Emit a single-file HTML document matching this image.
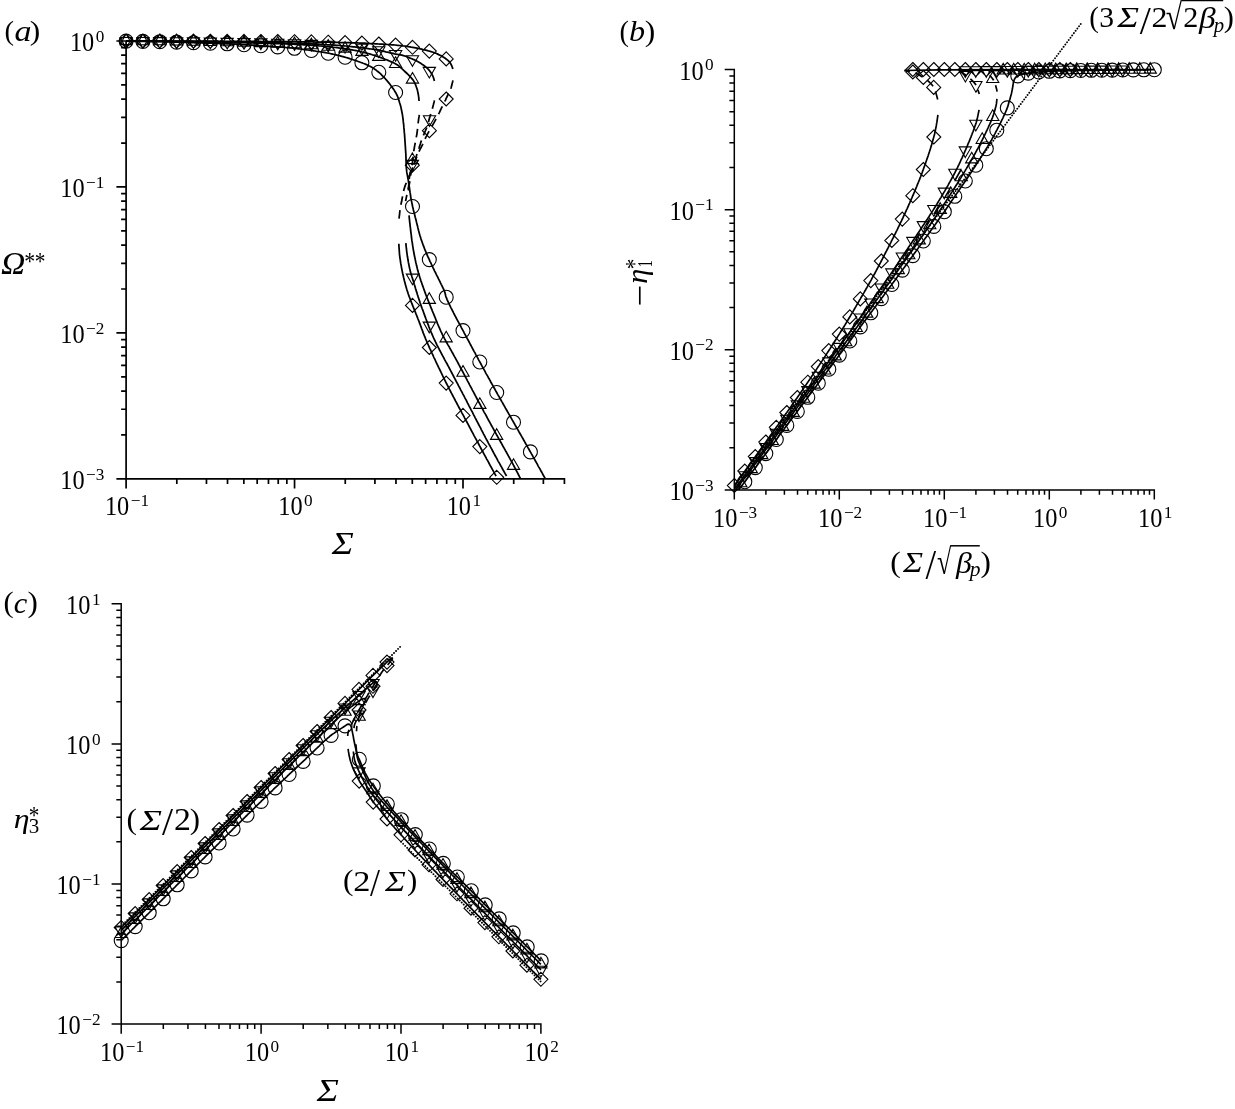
<!DOCTYPE html>
<html><head><meta charset="utf-8"><title>figure</title>
<style>html,body{margin:0;padding:0;background:#fff}svg{display:block}text{font-family:'Liberation Serif', 'DejaVu Serif', serif;fill:#000}</style>
</head><body>
<svg width="1235" height="1109" viewBox="0 0 1235 1109">
<rect width="1235" height="1109" fill="#fff"/>
<clipPath id="ca"><rect x="126.1" y="20" width="460" height="458.9"/></clipPath>
<g clip-path="url(#ca)">
<path d="M126.1 41.1L127.6 41.2L129.1 41.2L130.6 41.2L132.1 41.2L133.6 41.3L135.1 41.3L136.6 41.3L138.1 41.3L139.6 41.3L141.1 41.4L142.6 41.4L144.1 41.4L145.6 41.4L147.1 41.5L148.6 41.5L150.2 41.5L151.7 41.5L153.2 41.6L154.7 41.6L156.2 41.6L157.7 41.7L159.2 41.7L160.7 41.7L162.2 41.7L163.7 41.8L165.2 41.8L166.7 41.8L168.2 41.9L169.7 41.9L171.2 41.9L172.7 42.0L174.2 42.0L175.7 42.1L177.2 42.1L178.7 42.2L180.2 42.2L181.7 42.3L183.2 42.3L184.7 42.4L186.2 42.4L187.7 42.5L189.2 42.5L190.7 42.6L192.2 42.7L193.7 42.7L195.2 42.8L196.7 42.8L198.2 42.9L199.7 42.9L201.2 42.9L202.7 43.0L204.3 43.0L205.8 43.1L207.3 43.1L208.8 43.2L210.3 43.2L211.8 43.2L213.3 43.3L214.8 43.3L216.3 43.4L217.8 43.4L219.3 43.5L220.8 43.5L222.3 43.6L223.8 43.7L225.3 43.7L226.8 43.8L228.3 43.9L229.8 43.9L231.3 44.0L232.8 44.1L234.3 44.2L235.8 44.2L237.3 44.3L238.8 44.4L240.3 44.5L241.8 44.6L243.3 44.7L244.8 44.7L246.3 44.8L247.8 44.9L249.3 45.0L250.8 45.1L252.3 45.2L253.8 45.3L255.3 45.4L256.8 45.4L258.3 45.5L259.8 45.6L261.3 45.7L262.8 45.8L264.3 45.9L265.8 46.0L267.3 46.1L268.8 46.3L270.3 46.4L271.8 46.5L273.3 46.6L274.8 46.7L276.3 46.8L277.8 46.9L279.3 47.0L280.8 47.1L282.3 47.2L283.8 47.3L285.3 47.5L286.8 47.6L288.3 47.7L289.8 47.8L291.3 48.0L292.8 48.1L294.3 48.3L295.8 48.4L297.3 48.6L298.8 48.8L300.3 49.0L301.8 49.2L303.2 49.4L304.7 49.6L306.2 49.8L307.7 50.0L309.2 50.2L310.7 50.4L312.2 50.6L313.7 50.8L315.2 51.0L316.6 51.3L318.1 51.5L319.6 51.7L321.1 52.0L322.6 52.2L324.1 52.4L325.5 52.7L327.0 53.0L328.5 53.2L330.0 53.5L331.4 53.8L332.9 54.2L334.4 54.5L335.9 54.8L337.3 55.2L338.8 55.5L340.2 55.9L341.7 56.3L343.1 56.7L344.6 57.1L346.0 57.5L347.5 57.9L348.9 58.3L350.4 58.8L351.8 59.2L353.2 59.7L354.6 60.2L356.1 60.7L357.5 61.2L358.9 61.7L360.3 62.2L361.7 62.7L363.1 63.3L364.5 63.8L365.9 64.4L367.3 65.0L368.6 65.7L370.0 66.3L371.3 67.0L372.6 67.8L373.9 68.6L375.1 69.4L376.3 70.3L377.5 71.3L378.7 72.2L379.8 73.2L380.9 74.2L382.0 75.3L383.0 76.3L384.1 77.4L385.1 78.5L386.1 79.7L387.1 80.8L388.0 81.9L389.0 83.1L389.9 84.3L390.8 85.5L391.7 86.7L392.6 87.9L393.5 89.1L394.3 90.4L395.1 91.7L395.9 93.0L396.6 94.3L397.2 95.6L397.8 97.0L398.3 98.5L398.7 99.9L399.2 101.3L399.6 102.8L400.1 104.2L400.5 105.6L400.9 107.1L401.2 108.6L401.5 110.0L401.8 111.5L402.1 113.0L402.4 114.5L402.6 116.0L402.8 117.4L403.0 118.9L403.2 120.4L403.3 121.9L403.5 123.4L403.7 124.9L403.8 126.4L403.9 127.9L404.1 129.4L404.2 130.9L404.3 132.4L404.5 133.9L404.6 135.4L404.7 136.9L404.8 138.4L404.9 139.9L405.0 141.4L405.1 142.9L405.2 144.4L405.3 145.9L405.4 147.4L405.5 148.9L405.6 150.4L405.7 151.9L405.8 153.4L405.9 154.9L405.9 156.4L406.0 157.9L406.0 159.4L406.1 160.9L406.1 162.4L406.2 163.9L406.2 165.4L406.3 166.9L406.4 168.4L406.6 169.9L406.7 171.4L406.9 172.9L407.2 174.4L407.5 175.9L407.7 177.3L408.0 178.8L408.3 180.3L408.5 181.8L408.7 183.3L409.0 184.7L409.2 186.2L409.4 187.7L409.6 189.2L409.8 190.7L410.0 192.2L410.3 193.7L410.5 195.2L410.7 196.6L410.9 198.1L411.2 199.6L411.5 201.1L411.8 202.6L412.1 204.0L412.4 205.5L412.7 207.0L413.1 208.4L413.4 209.9L413.8 211.4L414.1 212.8L414.5 214.3L414.9 215.7L415.2 217.2L415.6 218.6L416.0 220.1L416.4 221.6L416.7 223.0L417.1 224.5L417.5 225.9L417.8 227.4L418.2 228.9L418.5 230.3L418.9 231.8L419.3 233.2L419.7 234.7L420.1 236.1L420.6 237.5L421.0 239.0L421.5 240.4L422.0 241.8L422.5 243.2L423.0 244.6L423.6 246.1L424.1 247.5L424.6 248.9L425.2 250.3L425.8 251.7L426.3 253.0L426.9 254.4L427.5 255.8L428.1 257.2L428.8 258.5L429.4 259.9L430.0 261.3L430.7 262.6L431.3 264.0L431.9 265.4L432.6 266.7L433.2 268.1L433.9 269.4L434.5 270.8L435.2 272.1L435.9 273.5L436.5 274.8L437.2 276.2L437.9 277.5L438.5 278.9L439.2 280.2L439.9 281.6L440.5 282.9L441.2 284.3L441.9 285.6L442.5 287.0L443.2 288.3L443.8 289.7L444.4 291.1L444.9 292.5L445.3 293.9L445.6 295.4L446.0 296.8L446.6 298.2L447.1 299.6L447.7 301.0L448.4 302.4L449.0 303.7L449.7 305.1L450.3 306.4L451.0 307.8L451.7 309.1L452.4 310.5L453.1 311.8L453.7 313.1L454.4 314.5L455.1 315.8L455.8 317.1L456.5 318.5L457.2 319.8L457.9 321.1L458.6 322.4L459.4 323.8L460.1 325.1L460.8 326.4L461.5 327.8L462.2 329.1L462.9 330.4L463.6 331.7L464.3 333.1L465.0 334.4L465.7 335.7L466.4 337.0L467.1 338.4L467.9 339.7L468.6 341.0L469.3 342.3L470.0 343.7L470.7 345.0L471.4 346.3L472.1 347.6L472.8 349.0L473.5 350.3L474.2 351.6L475.0 352.9L475.7 354.3L476.4 355.6L477.1 356.9L477.8 358.2L478.5 359.6L479.2 360.9L480.0 362.2L480.7 363.5L481.4 364.8L482.1 366.2L482.8 367.5L483.6 368.8L484.3 370.1L485.0 371.4L485.7 372.8L486.4 374.1L487.2 375.4L487.9 376.7L488.6 378.0L489.4 379.3L490.1 380.6L490.8 382.0L491.5 383.3L492.3 384.6L493.0 385.9L493.7 387.2L494.5 388.5L495.2 389.8L495.9 391.2L496.7 392.5L497.4 393.8L498.1 395.1L498.9 396.4L499.6 397.7L500.4 399.0L501.1 400.3L501.8 401.6L502.6 402.9L503.3 404.3L504.1 405.6L504.8 406.9L505.5 408.2L506.3 409.5L507.0 410.8L507.8 412.1L508.5 413.4L509.3 414.7L510.0 416.0L510.8 417.3L511.5 418.6L512.2 419.9L513.0 421.2L513.7 422.5L514.5 423.8L515.2 425.2L516.0 426.5L516.7 427.8L517.5 429.1L518.2 430.4L518.9 431.7L519.7 433.0L520.4 434.3L521.2 435.6L521.9 436.9L522.7 438.2L523.4 439.5L524.1 440.8L524.9 442.1L525.6 443.5L526.4 444.8L527.1 446.1L527.8 447.4L528.6 448.7L529.3 450.0L530.0 451.3L530.8 452.6L531.5 453.9L532.3 455.2L533.0 456.6L533.7 457.9L534.5 459.2L535.2 460.5L535.9 461.8L536.7 463.1L537.4 464.4L538.1 465.8L538.8 467.1L539.6 468.4L540.3 469.7L541.0 471.0L541.8 472.3L542.5 473.6L543.2 475.0L543.9 476.3L544.7 477.6L545.4 478.9" fill="none" stroke="#000" stroke-width="1.75" stroke-linejoin="round" stroke-linecap="butt"/>
<path d="M126.1 41.0L127.6 41.1L129.1 41.1L130.6 41.1L132.1 41.1L133.6 41.1L135.1 41.1L136.7 41.1L138.2 41.1L139.7 41.1L141.2 41.1L142.7 41.1L144.2 41.2L145.7 41.2L147.2 41.2L148.7 41.2L150.2 41.2L151.7 41.2L153.2 41.2L154.7 41.2L156.3 41.3L157.8 41.3L159.3 41.3L160.8 41.3L162.3 41.3L163.8 41.3L165.3 41.4L166.8 41.4L168.3 41.4L169.8 41.4L171.3 41.4L172.8 41.4L174.3 41.5L175.8 41.5L177.4 41.5L178.9 41.5L180.4 41.6L181.9 41.6L183.4 41.6L184.9 41.6L186.4 41.6L187.9 41.7L189.4 41.7L190.9 41.7L192.4 41.7L193.9 41.8L195.4 41.8L197.0 41.8L198.5 41.8L200.0 41.8L201.5 41.9L203.0 41.9L204.5 41.9L206.0 41.9L207.5 42.0L209.0 42.0L210.5 42.0L212.0 42.0L213.5 42.1L215.0 42.1L216.5 42.1L218.1 42.1L219.6 42.2L221.1 42.2L222.6 42.2L224.1 42.2L225.6 42.3L227.1 42.3L228.6 42.3L230.1 42.4L231.6 42.4L233.1 42.4L234.6 42.5L236.1 42.5L237.6 42.5L239.2 42.6L240.7 42.6L242.2 42.7L243.7 42.7L245.2 42.7L246.7 42.8L248.2 42.8L249.7 42.8L251.2 42.9L252.7 42.9L254.2 42.9L255.7 43.0L257.2 43.0L258.7 43.0L260.3 43.1L261.8 43.1L263.3 43.2L264.8 43.2L266.3 43.2L267.8 43.3L269.3 43.3L270.8 43.4L272.3 43.4L273.8 43.5L275.3 43.5L276.8 43.6L278.3 43.6L279.8 43.7L281.3 43.7L282.9 43.8L284.4 43.8L285.9 43.9L287.4 44.0L288.9 44.0L290.4 44.1L291.9 44.2L293.4 44.2L294.9 44.3L296.4 44.4L297.9 44.5L299.4 44.6L300.9 44.6L302.4 44.7L303.9 44.8L305.4 44.9L306.9 45.0L308.4 45.1L310.0 45.2L311.5 45.3L313.0 45.4L314.5 45.5L316.0 45.6L317.5 45.7L319.0 45.9L320.5 46.0L322.0 46.1L323.5 46.2L325.0 46.4L326.5 46.5L328.0 46.7L329.5 46.8L331.0 47.0L332.5 47.2L334.0 47.3L335.5 47.5L337.0 47.7L338.5 47.9L340.0 48.1L341.5 48.3L342.9 48.5L344.4 48.7L345.9 48.9L347.4 49.2L348.9 49.4L350.4 49.6L351.9 49.9L353.4 50.2L354.9 50.4L356.3 50.7L357.8 51.0L359.3 51.3L360.8 51.6L362.2 52.0L363.7 52.3L365.2 52.7L366.6 53.1L368.1 53.5L369.5 53.9L371.0 54.3L372.4 54.8L373.8 55.2L375.3 55.7L376.7 56.2L378.1 56.7L379.5 57.2L381.0 57.7L382.4 58.2L383.8 58.7L385.2 59.3L386.6 59.8L388.0 60.4L389.4 61.0L390.8 61.6L392.1 62.2L393.5 62.8L394.9 63.5L396.2 64.2L397.5 65.0L398.7 65.9L399.8 66.9L400.9 67.9L402.1 68.9L403.2 69.9L404.3 71.0L405.4 72.0L406.5 73.0L407.6 74.0L408.7 75.1L409.7 76.1L410.8 77.3L411.7 78.4L412.7 79.6L413.5 80.8L414.3 82.1L415.0 83.5L415.6 84.9L416.1 86.3L416.6 87.7L417.1 89.1L417.5 90.6L417.8 92.1L418.1 93.5L418.4 95.0L418.6 96.5L418.8 98.0L418.9 99.5L419.1 101.0" fill="none" stroke="#000" stroke-width="1.75" stroke-linejoin="round" stroke-linecap="butt"/>
<path d="M419.3 114.9L419.1 116.4L418.8 117.9L418.6 119.4L418.4 121.0L418.2 122.5L418.1 124.0L417.9 125.5L417.8 127.0L417.6 128.6L417.4 130.1L417.2 131.6L417.0 133.1L416.8 134.6L416.5 136.1L416.2 137.6L416.0 139.1L415.7 140.6L415.4 142.1L415.1 143.6L414.8 145.1L414.5 146.6L414.3 148.1L414.0 149.7L413.8 151.2L413.7 152.7L413.5 154.2L413.3 155.7L413.1 157.2L412.9 158.8L412.8 160.3L412.5 161.8L412.3 163.3L412.1 164.8L411.7 166.3L411.4 167.8L411.1 169.3L410.7 170.8L410.4 172.3L410.0 173.8L409.8 175.3L409.5 176.8L409.3 178.3L409.1 179.8L409.0 181.3L408.8 182.9L408.7 184.4L408.7 185.9L408.6 187.4L408.6 189.0L408.6 190.5" fill="none" stroke="#000" stroke-width="1.75" stroke-linejoin="round" stroke-linecap="butt" stroke-dasharray="8.6 5.5"/>
<path d="M409.0 215.3L409.2 216.8L409.3 218.3L409.5 219.8L409.6 221.3L409.8 222.8L410.0 224.3L410.1 225.8L410.3 227.2L410.5 228.7L410.6 230.2L410.8 231.7L411.0 233.2L411.2 234.7L411.4 236.2L411.5 237.7L411.7 239.2L411.9 240.7L412.2 242.1L412.4 243.6L412.6 245.1L412.8 246.6L413.1 248.1L413.3 249.6L413.6 251.0L413.8 252.5L414.1 254.0L414.4 255.5L414.7 257.0L415.0 258.4L415.3 259.9L415.6 261.4L415.9 262.8L416.3 264.3L416.6 265.8L417.0 267.2L417.3 268.7L417.7 270.1L418.1 271.6L418.5 273.0L419.0 274.4L419.4 275.9L419.8 277.3L420.3 278.8L420.7 280.2L421.2 281.6L421.7 283.0L422.2 284.5L422.7 285.9L423.2 287.3L423.7 288.7L424.2 290.1L424.7 291.5L425.2 292.9L425.7 294.3L426.3 295.7L426.8 297.1L427.4 298.5L427.9 299.9L428.5 301.3L429.0 302.7L429.6 304.1L430.2 305.5L430.7 306.9L431.3 308.3L431.9 309.7L432.4 311.1L433.0 312.5L433.6 313.9L434.1 315.2L434.7 316.6L435.3 318.0L435.8 319.4L436.4 320.8L437.0 322.2L437.5 323.6L438.1 325.0L438.7 326.4L439.3 327.7L439.9 329.1L440.5 330.5L441.1 331.9L441.8 333.2L442.4 334.6L443.1 335.9L443.8 337.2L444.5 338.6L445.2 339.9L445.9 341.2L446.7 342.5L447.4 343.8L448.1 345.1L448.9 346.4L449.6 347.7L450.4 349.1L451.1 350.4L451.8 351.7L452.6 353.0L453.3 354.3L454.0 355.6L454.7 356.9L455.5 358.3L456.2 359.6L456.9 360.9L457.6 362.2L458.3 363.5L459.0 364.9L459.7 366.2L460.4 367.5L461.1 368.8L461.9 370.2L462.6 371.5L463.3 372.8L464.0 374.1L464.7 375.5L465.4 376.8L466.1 378.1L466.8 379.4L467.5 380.8L468.2 382.1L468.9 383.4L469.6 384.8L470.3 386.1L471.0 387.4L471.7 388.7L472.4 390.1L473.1 391.4L473.8 392.7L474.5 394.0L475.2 395.4L475.9 396.7L476.6 398.0L477.3 399.4L478.0 400.7L478.7 402.0L479.5 403.3L480.2 404.6L480.9 406.0L481.6 407.3L482.3 408.6L483.0 409.9L483.7 411.3L484.4 412.6L485.2 413.9L485.9 415.2L486.6 416.5L487.3 417.9L488.0 419.2L488.7 420.5L489.5 421.8L490.2 423.1L490.9 424.4L491.6 425.8L492.4 427.1L493.1 428.4L493.8 429.7L494.5 431.0L495.3 432.3L496.0 433.6L496.7 435.0L497.5 436.3L498.2 437.6L498.9 438.9L499.7 440.2L500.4 441.5L501.1 442.8L501.9 444.1L502.6 445.5L503.3 446.8L504.1 448.1L504.8 449.4L505.5 450.7L506.3 452.0L507.0 453.3L507.7 454.6L508.4 455.9L509.2 457.3L509.9 458.6L510.6 459.9L511.3 461.2L512.1 462.5L512.8 463.8L513.5 465.2L514.2 466.5L514.9 467.8L515.6 469.1L516.3 470.5L517.0 471.8L517.7 473.1L518.4 474.5L519.1 475.8L519.7 477.2L520.4 478.5" fill="none" stroke="#000" stroke-width="1.75" stroke-linejoin="round" stroke-linecap="butt"/>
<path d="M126.1 41.0L127.6 41.0L129.1 41.0L130.6 41.0L132.1 41.0L133.6 41.0L135.1 41.0L136.6 41.0L138.1 41.0L139.6 41.0L141.1 41.0L142.6 41.0L144.1 41.1L145.6 41.1L147.2 41.1L148.7 41.1L150.2 41.1L151.7 41.1L153.2 41.1L154.7 41.1L156.2 41.1L157.7 41.1L159.2 41.1L160.7 41.2L162.2 41.2L163.7 41.2L165.2 41.2L166.7 41.2L168.2 41.2L169.7 41.2L171.2 41.2L172.7 41.3L174.2 41.3L175.7 41.3L177.2 41.3L178.7 41.3L180.2 41.3L181.7 41.3L183.2 41.4L184.7 41.4L186.3 41.4L187.8 41.4L189.3 41.4L190.8 41.4L192.3 41.4L193.8 41.5L195.3 41.5L196.8 41.5L198.3 41.5L199.8 41.5L201.3 41.5L202.8 41.5L204.3 41.5L205.8 41.5L207.3 41.6L208.8 41.6L210.3 41.6L211.8 41.6L213.3 41.6L214.8 41.7L216.3 41.7L217.8 41.7L219.3 41.8L220.8 41.8L222.3 41.8L223.8 41.8L225.3 41.9L226.9 41.9L228.4 41.9L229.9 41.9L231.4 42.0L232.9 42.0L234.4 42.0L235.9 42.0L237.4 42.1L238.9 42.1L240.4 42.1L241.9 42.1L243.4 42.1L244.9 42.2L246.4 42.2L247.9 42.2L249.4 42.2L250.9 42.3L252.4 42.3L253.9 42.3L255.4 42.3L256.9 42.4L258.4 42.4L259.9 42.4L261.4 42.5L262.9 42.5L264.4 42.5L265.9 42.5L267.4 42.6L269.0 42.6L270.5 42.6L272.0 42.7L273.5 42.7L275.0 42.7L276.5 42.8L278.0 42.8L279.5 42.8L281.0 42.9L282.5 42.9L284.0 43.0L285.5 43.0L287.0 43.1L288.5 43.1L290.0 43.2L291.5 43.2L293.0 43.3L294.5 43.3L296.0 43.3L297.5 43.4L299.0 43.4L300.5 43.5L302.0 43.5L303.5 43.6L305.0 43.6L306.5 43.7L308.0 43.8L309.5 43.8L311.0 43.9L312.5 44.0L314.0 44.0L315.5 44.1L317.0 44.2L318.6 44.2L320.1 44.3L321.6 44.4L323.1 44.5L324.6 44.6L326.1 44.7L327.6 44.8L329.1 44.8L330.6 44.9L332.1 45.0L333.6 45.1L335.1 45.2L336.6 45.3L338.1 45.4L339.6 45.5L341.1 45.7L342.6 45.8L344.1 45.9L345.6 46.0L347.1 46.2L348.6 46.3L350.0 46.5L351.5 46.6L353.0 46.8L354.5 46.9L356.0 47.1L357.5 47.3L359.0 47.5L360.5 47.6L362.0 47.8L363.5 48.0L365.0 48.2L366.5 48.4L368.0 48.6L369.5 48.8L371.0 49.0L372.4 49.2L373.9 49.4L375.4 49.7L376.9 49.9L378.4 50.2L379.8 50.5L381.3 50.8L382.8 51.1L384.3 51.4L385.7 51.8L387.2 52.1L388.7 52.4L390.1 52.8L391.6 53.1L393.1 53.4L394.5 53.8L396.0 54.1L397.5 54.4L399.0 54.6L400.4 54.9L401.9 55.2L403.4 55.6L404.8 56.0L406.2 56.5L407.6 57.0L409.0 57.6L410.4 58.2L411.8 58.8L413.2 59.4L414.6 59.9L415.9 60.6L417.2 61.3L418.5 62.0L419.8 62.8L421.1 63.6L422.4 64.5L423.6 65.3L424.8 66.2L426.0 67.1L427.1 68.1L428.2 69.2L429.2 70.3L430.1 71.5L431.0 72.7L431.8 74.0L432.5 75.3L433.1 76.7L433.6 78.1L434.0 79.5L434.4 81.0" fill="none" stroke="#000" stroke-width="1.75" stroke-linejoin="round" stroke-linecap="butt"/>
<path d="M434.4 100.4L434.1 101.9L433.7 103.4L433.4 104.8L433.0 106.3L432.6 107.8L432.2 109.3L431.8 110.7L431.3 112.2L430.9 113.6L430.4 115.1L430.0 116.5L429.5 118.0L429.1 119.5L428.7 120.9L428.4 122.4L428.0 123.9L427.6 125.3L427.1 126.8L426.5 128.2L425.9 129.6L425.3 131.0L424.7 132.4L424.1 133.8L423.5 135.2L422.9 136.6L422.4 138.0L421.8 139.4L421.3 140.9L420.8 142.3L420.4 143.8L419.9 145.2L419.4 146.7L419.0 148.1L418.5 149.5L418.0 151.0L417.5 152.4L417.0 153.9L416.6 155.3L416.2 156.8L415.8 158.3L415.3 159.7L414.9 161.2L414.5 162.6L414.0 164.1L413.5 165.5L413.0 167.0L412.5 168.4L412.0 169.8L411.6 171.3L411.1 172.8L410.8 174.2L410.5 175.7L410.2 177.2L410.0 178.7L409.8 180.2L409.7 181.8L409.5 183.3L409.2 184.8L408.9 186.3L408.5 187.7L408.1 189.2L407.7 190.7L407.4 192.1L407.1 193.6L406.8 195.1L406.5 196.6L406.2 198.1L405.9 199.6L405.6 201.1" fill="none" stroke="#000" stroke-width="1.75" stroke-linejoin="round" stroke-linecap="butt" stroke-dasharray="8.6 5.5"/>
<path d="M405.8 243.1L406.0 244.6L406.1 246.1L406.3 247.6L406.5 249.1L406.6 250.6L406.8 252.1L407.0 253.5L407.2 255.0L407.4 256.5L407.7 258.0L407.9 259.5L408.2 261.0L408.4 262.4L408.7 263.9L409.0 265.4L409.3 266.9L409.6 268.3L410.0 269.8L410.3 271.3L410.7 272.7L411.1 274.1L411.6 275.6L412.0 277.0L412.5 278.5L412.9 279.9L413.4 281.3L413.8 282.8L414.2 284.2L414.7 285.6L415.1 287.1L415.5 288.5L416.0 289.9L416.4 291.4L416.9 292.8L417.3 294.2L417.8 295.7L418.2 297.1L418.7 298.5L419.2 300.0L419.7 301.4L420.1 302.8L420.6 304.2L421.1 305.6L421.6 307.1L422.1 308.5L422.7 309.9L423.2 311.3L423.7 312.7L424.2 314.1L424.7 315.5L425.2 316.9L425.7 318.3L426.3 319.8L426.8 321.2L427.3 322.6L427.9 324.0L428.4 325.4L428.9 326.8L429.5 328.2L430.0 329.6L430.6 331.0L431.2 332.4L431.8 333.7L432.4 335.1L433.0 336.5L433.6 337.9L434.2 339.2L434.9 340.6L435.5 341.9L436.2 343.3L436.8 344.6L437.5 346.0L438.2 347.3L438.9 348.6L439.6 350.0L440.3 351.3L441.0 352.6L441.7 354.0L442.4 355.3L443.1 356.6L443.8 357.9L444.5 359.3L445.2 360.6L445.9 361.9L446.7 363.2L447.4 364.5L448.1 365.9L448.8 367.2L449.5 368.5L450.2 369.8L450.9 371.2L451.6 372.5L452.3 373.8L453.0 375.1L453.7 376.5L454.4 377.8L455.1 379.1L455.8 380.5L456.5 381.8L457.2 383.1L457.9 384.4L458.6 385.8L459.3 387.1L460.0 388.4L460.7 389.8L461.4 391.1L462.1 392.4L462.8 393.8L463.5 395.1L464.2 396.4L464.9 397.8L465.6 399.1L466.3 400.4L467.0 401.8L467.6 403.1L468.3 404.4L469.0 405.8L469.7 407.1L470.4 408.4L471.1 409.8L471.8 411.1L472.5 412.4L473.2 413.8L473.8 415.1L474.5 416.4L475.2 417.8L475.9 419.1L476.6 420.5L477.3 421.8L478.0 423.1L478.7 424.5L479.4 425.8L480.1 427.1L480.8 428.4L481.4 429.8L482.1 431.1L482.8 432.4L483.5 433.8L484.2 435.1L484.9 436.4L485.6 437.8L486.3 439.1L487.0 440.4L487.7 441.7L488.4 443.1L489.1 444.4L489.9 445.7L490.6 447.1L491.3 448.4L492.0 449.7L492.7 451.0L493.4 452.3L494.1 453.7L494.8 455.0L495.5 456.3L496.3 457.6L497.0 458.9L497.7 460.3L498.4 461.6L499.2 462.9L499.9 464.2L500.6 465.5L501.4 466.8L502.1 468.1L502.8 469.5L503.6 470.8L504.3 472.1L505.0 473.4L505.8 474.7L506.5 476.0" fill="none" stroke="#000" stroke-width="1.75" stroke-linejoin="round" stroke-linecap="butt"/>
<path d="M126.1 41.0L127.6 41.0L129.1 41.0L130.6 41.0L132.1 41.0L133.6 41.0L135.1 41.0L136.6 41.0L138.1 41.0L139.6 41.0L141.1 41.0L142.6 41.0L144.1 41.0L145.6 41.0L147.1 41.0L148.6 41.0L150.1 41.0L151.6 41.0L153.1 41.0L154.6 41.0L156.1 41.0L157.6 41.0L159.1 41.0L160.6 41.1L162.1 41.1L163.6 41.1L165.1 41.1L166.7 41.1L168.2 41.1L169.7 41.1L171.2 41.1L172.7 41.1L174.2 41.1L175.7 41.1L177.2 41.1L178.7 41.1L180.2 41.1L181.7 41.1L183.2 41.1L184.7 41.1L186.2 41.1L187.7 41.1L189.2 41.1L190.7 41.1L192.2 41.1L193.7 41.2L195.2 41.2L196.7 41.2L198.2 41.2L199.7 41.2L201.2 41.2L202.7 41.2L204.2 41.2L205.7 41.2L207.2 41.2L208.7 41.2L210.2 41.2L211.7 41.2L213.2 41.2L214.7 41.2L216.2 41.2L217.7 41.2L219.2 41.3L220.7 41.3L222.2 41.3L223.7 41.3L225.2 41.3L226.7 41.3L228.2 41.3L229.7 41.3L231.2 41.3L232.7 41.3L234.2 41.3L235.7 41.3L237.2 41.3L238.7 41.3L240.2 41.3L241.7 41.3L243.2 41.3L244.7 41.4L246.2 41.4L247.8 41.4L249.3 41.4L250.8 41.4L252.3 41.4L253.8 41.4L255.3 41.4L256.8 41.4L258.3 41.4L259.8 41.4L261.3 41.5L262.8 41.5L264.3 41.5L265.8 41.5L267.3 41.5L268.8 41.5L270.3 41.5L271.8 41.5L273.3 41.5L274.8 41.5L276.3 41.5L277.8 41.6L279.3 41.6L280.8 41.6L282.3 41.6L283.8 41.6L285.3 41.6L286.8 41.6L288.3 41.6L289.8 41.7L291.3 41.7L292.8 41.7L294.3 41.7L295.8 41.7L297.3 41.7L298.8 41.7L300.3 41.8L301.8 41.8L303.3 41.8L304.8 41.8L306.3 41.8L307.8 41.9L309.3 41.9L310.8 41.9L312.3 41.9L313.8 41.9L315.3 42.0L316.8 42.0L318.3 42.0L319.8 42.0L321.3 42.1L322.8 42.1L324.3 42.1L325.8 42.1L327.3 42.2L328.8 42.2L330.3 42.2L331.8 42.3L333.3 42.3L334.9 42.4L336.4 42.4L337.9 42.4L339.4 42.5L340.9 42.5L342.4 42.5L343.9 42.6L345.4 42.6L346.9 42.6L348.4 42.7L349.9 42.7L351.4 42.8L352.9 42.8L354.4 42.8L355.9 42.9L357.4 42.9L358.9 43.0L360.4 43.0L361.9 43.1L363.4 43.2L364.9 43.2L366.4 43.3L367.9 43.4L369.4 43.5L370.9 43.5L372.4 43.6L373.9 43.7L375.4 43.8L376.9 43.9L378.4 44.0L379.9 44.1L381.4 44.1L382.9 44.2L384.4 44.3L385.9 44.4L387.4 44.5L388.9 44.6L390.4 44.7L391.9 44.8L393.4 44.9L394.9 45.0L396.4 45.2L397.8 45.3L399.3 45.5L400.8 45.6L402.3 45.8L403.8 46.0L405.3 46.2L406.8 46.4L408.3 46.6L409.8 46.8L411.2 47.1L412.7 47.3L414.2 47.6L415.7 47.9L417.1 48.2L418.6 48.5L420.1 48.8L421.6 49.1L423.0 49.5L424.5 49.8L425.9 50.2L427.4 50.6L428.8 51.0L430.3 51.4L431.7 51.8L433.1 52.3L434.6 52.8L436.0 53.3L437.3 53.9L438.7 54.6L440.0 55.2L441.4 55.9L442.7 56.7L444.0 57.5L445.2 58.3L446.4 59.2L447.6 60.1L448.7 61.1L449.7 62.3L450.6 63.5L451.3 64.8L451.9 66.2L452.4 67.6L452.9 69.0" fill="none" stroke="#000" stroke-width="1.75" stroke-linejoin="round" stroke-linecap="butt"/>
<path d="M452.9 80.4L452.6 81.9L452.2 83.3L451.9 84.8L451.5 86.3L451.1 87.7L450.6 89.1L450.0 90.5L449.4 91.9L448.7 93.2L448.0 94.6L447.4 96.0L446.7 97.3L446.1 98.7L445.5 100.1L444.8 101.4L444.2 102.8L443.5 104.1L442.8 105.5L442.1 106.8L441.4 108.2L440.8 109.5L440.1 110.9L439.5 112.3L438.8 113.6L438.2 115.0L437.5 116.3L436.8 117.6L436.1 119.0L435.3 120.3L434.6 121.6L433.9 122.9L433.1 124.2L432.4 125.6L431.7 126.9L430.9 128.2L430.1 129.5L429.4 130.8L428.6 132.1L427.9 133.4L427.2 134.7L426.5 136.1L425.8 137.4L425.1 138.8L424.4 140.1L423.8 141.5L423.2 142.9L422.7 144.3L422.0 145.6L421.3 147.0L420.6 148.3L419.9 149.7L419.3 151.0L418.6 152.4L418.0 153.7L417.4 155.1L416.8 156.5L416.3 157.9L415.8 159.4L415.2 160.8L414.7 162.2L414.2 163.6L413.7 165.0L413.1 166.4L412.5 167.8L412.0 169.2L411.4 170.6L410.8 172.0L410.2 173.4L409.7 174.8L409.1 176.2L408.6 177.6L408.0 179.0L407.4 180.4L406.8 181.8L406.2 183.1L405.6 184.5L405.1 185.9L404.6 187.4L404.2 188.8L403.8 190.3L403.4 191.7L403.1 193.2L402.8 194.7L402.6 196.2L402.3 197.7L402.0 199.1L401.8 200.6L401.5 202.1L401.1 203.6L400.8 205.1L400.5 206.5L400.3 208.0L400.1 209.5L399.9 211.0L399.7 212.5L399.6 214.0L399.4 215.5L399.2 217.0L399.0 218.5L398.8 220.0" fill="none" stroke="#000" stroke-width="1.75" stroke-linejoin="round" stroke-linecap="butt" stroke-dasharray="8.6 5.5"/>
<path d="M398.8 243.8L398.9 245.3L399.0 246.8L399.1 248.3L399.2 249.8L399.3 251.3L399.4 252.8L399.5 254.3L399.7 255.8L399.9 257.3L400.1 258.8L400.3 260.2L400.5 261.7L400.7 263.2L401.0 264.7L401.3 266.2L401.5 267.6L401.8 269.1L402.1 270.6L402.4 272.1L402.7 273.5L403.1 275.0L403.4 276.5L403.7 277.9L404.1 279.4L404.4 280.8L404.8 282.3L405.2 283.8L405.6 285.2L406.0 286.7L406.4 288.1L406.8 289.5L407.3 291.0L407.8 292.4L408.2 293.8L408.7 295.2L409.2 296.6L409.8 298.0L410.3 299.5L410.8 300.9L411.4 302.3L411.9 303.7L412.5 305.1L413.0 306.4L413.6 307.8L414.1 309.2L414.7 310.6L415.3 312.0L415.8 313.4L416.4 314.8L416.9 316.2L417.5 317.6L418.0 319.0L418.6 320.4L419.1 321.8L419.6 323.2L420.2 324.6L420.7 326.0L421.2 327.4L421.7 328.8L422.3 330.2L422.8 331.6L423.3 333.1L423.9 334.5L424.4 335.9L425.0 337.2L425.5 338.6L426.1 340.0L426.7 341.4L427.3 342.8L427.9 344.2L428.5 345.5L429.1 346.9L429.7 348.3L430.4 349.6L431.0 351.0L431.6 352.4L432.2 353.7L432.9 355.1L433.5 356.5L434.1 357.8L434.8 359.2L435.4 360.5L436.0 361.9L436.7 363.3L437.3 364.6L438.0 366.0L438.6 367.3L439.3 368.7L439.9 370.0L440.6 371.4L441.2 372.7L441.9 374.1L442.5 375.4L443.2 376.8L443.8 378.1L444.5 379.5L445.2 380.8L445.8 382.2L446.5 383.5L447.2 384.9L447.9 386.2L448.5 387.5L449.2 388.9L449.9 390.2L450.6 391.5L451.3 392.9L452.0 394.2L452.7 395.5L453.4 396.9L454.1 398.2L454.8 399.5L455.5 400.9L456.2 402.2L456.9 403.5L457.6 404.8L458.3 406.2L459.0 407.5L459.7 408.8L460.5 410.1L461.2 411.4L461.9 412.8L462.6 414.1L463.3 415.4L464.0 416.7L464.7 418.1L465.4 419.4L466.1 420.7L466.9 422.0L467.6 423.3L468.3 424.7L469.0 426.0L469.7 427.3L470.4 428.6L471.1 430.0L471.8 431.3L472.5 432.6L473.2 433.9L473.9 435.3L474.6 436.6L475.3 437.9L476.1 439.2L476.8 440.6L477.5 441.9L478.2 443.2L478.9 444.5L479.6 445.9L480.3 447.2L481.0 448.5L481.7 449.8L482.5 451.1L483.2 452.5L483.9 453.8L484.6 455.1L485.3 456.4L486.0 457.7L486.7 459.1L487.5 460.4L488.2 461.7L488.9 463.0L489.6 464.3L490.3 465.7L491.1 467.0L491.8 468.3L492.5 469.6L493.2 470.9L493.9 472.2L494.7 473.6L495.4 474.9L496.1 476.2" fill="none" stroke="#000" stroke-width="1.75" stroke-linejoin="round" stroke-linecap="butt"/>
</g>
<path d="M119.1 41.1a7.0 7.0 0 1 0 14.0 0a7.0 7.0 0 1 0 -14.0 0ZM135.9 41.4a7.0 7.0 0 1 0 14.0 0a7.0 7.0 0 1 0 -14.0 0ZM152.8 41.7a7.0 7.0 0 1 0 14.0 0a7.0 7.0 0 1 0 -14.0 0ZM169.6 42.1a7.0 7.0 0 1 0 14.0 0a7.0 7.0 0 1 0 -14.0 0ZM186.5 42.7a7.0 7.0 0 1 0 14.0 0a7.0 7.0 0 1 0 -14.0 0ZM203.3 43.2a7.0 7.0 0 1 0 14.0 0a7.0 7.0 0 1 0 -14.0 0ZM220.2 43.8a7.0 7.0 0 1 0 14.0 0a7.0 7.0 0 1 0 -14.0 0ZM237.0 44.7a7.0 7.0 0 1 0 14.0 0a7.0 7.0 0 1 0 -14.0 0ZM253.9 45.7a7.0 7.0 0 1 0 14.0 0a7.0 7.0 0 1 0 -14.0 0ZM270.7 46.9a7.0 7.0 0 1 0 14.0 0a7.0 7.0 0 1 0 -14.0 0ZM287.5 48.3a7.0 7.0 0 1 0 14.0 0a7.0 7.0 0 1 0 -14.0 0ZM304.4 50.5a7.0 7.0 0 1 0 14.0 0a7.0 7.0 0 1 0 -14.0 0ZM321.2 53.2a7.0 7.0 0 1 0 14.0 0a7.0 7.0 0 1 0 -14.0 0ZM338.1 57.2a7.0 7.0 0 1 0 14.0 0a7.0 7.0 0 1 0 -14.0 0ZM354.9 62.8a7.0 7.0 0 1 0 14.0 0a7.0 7.0 0 1 0 -14.0 0ZM371.8 72.3a7.0 7.0 0 1 0 14.0 0a7.0 7.0 0 1 0 -14.0 0ZM388.6 92.5a7.0 7.0 0 1 0 14.0 0a7.0 7.0 0 1 0 -14.0 0ZM405.5 206.5a7.0 7.0 0 1 0 14.0 0a7.0 7.0 0 1 0 -14.0 0ZM422.3 259.6a7.0 7.0 0 1 0 14.0 0a7.0 7.0 0 1 0 -14.0 0ZM439.2 297.2a7.0 7.0 0 1 0 14.0 0a7.0 7.0 0 1 0 -14.0 0ZM456.0 330.6a7.0 7.0 0 1 0 14.0 0a7.0 7.0 0 1 0 -14.0 0ZM472.8 362.0a7.0 7.0 0 1 0 14.0 0a7.0 7.0 0 1 0 -14.0 0ZM489.7 392.5a7.0 7.0 0 1 0 14.0 0a7.0 7.0 0 1 0 -14.0 0ZM506.5 422.2a7.0 7.0 0 1 0 14.0 0a7.0 7.0 0 1 0 -14.0 0ZM523.4 451.9a7.0 7.0 0 1 0 14.0 0a7.0 7.0 0 1 0 -14.0 0ZM126.1 33.9L132.2 44.6L120.0 44.6ZM142.9 34.0L149.1 44.7L136.8 44.7ZM159.8 34.2L165.9 44.8L153.6 44.8ZM176.6 34.4L182.8 45.0L170.5 45.0ZM193.5 34.6L199.6 45.3L187.3 45.3ZM210.3 34.9L216.5 45.5L204.2 45.5ZM227.2 35.2L233.3 45.8L221.0 45.8ZM244.0 35.6L250.2 46.2L237.9 46.2ZM260.9 36.0L267.0 46.6L254.7 46.6ZM277.7 36.5L283.9 47.1L271.6 47.1ZM294.5 37.2L300.7 47.8L288.4 47.8ZM311.4 38.2L317.5 48.8L305.2 48.8ZM328.2 39.6L334.4 50.2L322.1 50.2ZM345.1 41.7L351.2 52.3L338.9 52.3ZM361.9 44.8L368.1 55.4L355.8 55.4ZM378.8 49.8L384.9 60.4L372.6 60.4ZM395.6 56.8L401.8 67.5L389.5 67.5ZM412.5 72.5L418.6 83.1L406.3 83.1ZM412.4 152.9L418.5 163.6L406.3 163.6ZM429.3 292.7L435.5 303.4L423.2 303.4ZM446.2 331.3L452.3 341.9L440.0 341.9ZM463.0 365.6L469.1 376.2L456.9 376.2ZM479.8 397.8L486.0 408.4L473.7 408.4ZM496.7 428.7L502.8 439.4L490.5 439.4ZM513.5 458.8L519.7 469.4L507.4 469.4ZM126.1 48.1L132.2 37.5L120.0 37.5ZM142.9 48.1L149.1 37.5L136.8 37.5ZM159.8 48.2L165.9 37.6L153.6 37.6ZM176.6 48.4L182.8 37.8L170.5 37.8ZM193.5 48.6L199.6 37.9L187.3 37.9ZM210.3 48.7L216.5 38.1L204.2 38.1ZM227.2 49.0L233.3 38.4L221.0 38.4ZM244.0 49.2L250.2 38.6L237.9 38.6ZM260.9 49.6L267.0 38.9L254.7 38.9ZM277.7 49.9L283.9 39.2L271.6 39.2ZM294.5 50.4L300.7 39.8L288.4 39.8ZM311.4 51.0L317.5 40.4L305.2 40.4ZM328.2 51.9L334.4 41.2L322.1 41.2ZM345.1 53.1L351.2 42.5L338.9 42.5ZM361.9 54.9L368.1 44.2L355.8 44.2ZM378.8 57.4L384.9 46.8L372.6 46.8ZM395.6 61.1L401.8 50.5L389.5 50.5ZM412.5 66.3L418.6 55.7L406.3 55.7ZM429.3 78.0L435.5 67.4L423.2 67.4ZM429.5 126.3L435.6 115.7L423.4 115.7ZM412.4 171.1L418.5 160.4L406.3 160.4ZM412.5 284.7L418.6 274.1L406.3 274.1ZM429.3 332.8L435.5 322.1L423.2 322.1ZM126.1 34.0L133.1 41.0L126.1 48.0L119.1 41.0ZM142.9 34.0L149.9 41.0L142.9 48.0L135.9 41.0ZM159.8 34.0L166.8 41.0L159.8 48.0L152.8 41.0ZM176.6 34.1L183.6 41.1L176.6 48.1L169.6 41.1ZM193.5 34.1L200.5 41.1L193.5 48.1L186.5 41.1ZM210.3 34.2L217.3 41.2L210.3 48.2L203.3 41.2ZM227.2 34.3L234.2 41.3L227.2 48.3L220.2 41.3ZM244.0 34.4L251.0 41.4L244.0 48.4L237.0 41.4ZM260.9 34.5L267.9 41.5L260.9 48.5L253.9 41.5ZM277.7 34.5L284.7 41.5L277.7 48.5L270.7 41.5ZM294.5 34.7L301.5 41.7L294.5 48.7L287.5 41.7ZM311.4 34.9L318.4 41.9L311.4 48.9L304.4 41.9ZM328.2 35.2L335.2 42.2L328.2 49.2L321.2 42.2ZM345.1 35.6L352.1 42.6L345.1 49.6L338.1 42.6ZM361.9 36.1L368.9 43.1L361.9 50.1L354.9 43.1ZM378.8 37.0L385.8 44.0L378.8 51.0L371.8 44.0ZM395.6 38.1L402.6 45.1L395.6 52.1L388.6 45.1ZM412.5 40.3L419.5 47.3L412.5 54.3L405.5 47.3ZM429.3 44.1L436.3 51.1L429.3 58.1L422.3 51.1ZM446.2 51.9L453.2 58.9L446.2 65.9L439.2 58.9ZM446.2 92.0L453.2 99.0L446.2 106.0L439.2 99.0ZM429.4 123.7L436.4 130.7L429.4 137.7L422.4 130.7ZM412.3 158.2L419.3 165.2L412.3 172.2L405.3 165.2ZM412.5 298.4L419.5 305.4L412.5 312.4L405.5 305.4ZM429.3 340.5L436.3 347.5L429.3 354.5L422.3 347.5ZM446.2 376.1L453.2 383.1L446.2 390.1L439.2 383.1ZM463.0 408.4L470.0 415.4L463.0 422.4L456.0 415.4ZM479.8 439.6L486.8 446.6L479.8 453.6L472.8 446.6ZM496.7 470.3L503.7 477.3L496.7 484.3L489.7 477.3Z" fill="none" stroke="#000" stroke-width="1.1" stroke-linejoin="miter"/>
<clipPath id="cb"><rect x="734.3" y="10" width="440" height="479.9"/></clipPath>
<g clip-path="url(#cb)">
<path d="M734.3 486.3L1081.4 23.1" fill="none" stroke="#000" stroke-width="1.9" stroke-linejoin="round" stroke-linecap="round" stroke-dasharray="0.01 2.85"/>
<path d="M734.3 495.8L735.2 494.6L736.1 493.4L737.0 492.2L737.9 491.0L738.8 489.8L739.7 488.5L740.6 487.3L741.5 486.1L742.4 484.9L743.3 483.7L744.2 482.5L745.1 481.3L746.0 480.1L746.9 478.9L747.8 477.7L748.7 476.5L749.6 475.3L750.5 474.1L751.4 472.9L752.3 471.7L753.2 470.5L754.1 469.3L755.0 468.1L755.9 466.9L756.8 465.7L757.7 464.5L758.6 463.2L759.5 462.0L760.4 460.8L761.3 459.6L762.2 458.4L763.1 457.2L764.0 456.0L764.9 454.8L765.8 453.6L766.7 452.4L767.6 451.2L768.5 450.0L769.4 448.8L770.3 447.6L771.2 446.4L772.1 445.2L773.0 444.0L773.9 442.8L774.8 441.6L775.7 440.4L776.6 439.2L777.5 437.9L778.4 436.7L779.3 435.5L780.2 434.3L781.1 433.1L782.0 431.9L782.9 430.7L783.8 429.5L784.6 428.3L785.5 427.1L786.4 425.9L787.3 424.7L788.2 423.5L789.1 422.3L790.0 421.1L790.9 419.9L791.8 418.7L792.7 417.5L793.6 416.3L794.5 415.1L795.4 413.9L796.3 412.7L797.2 411.4L798.1 410.2L799.0 409.0L799.9 407.8L800.8 406.6L801.7 405.4L802.6 404.2L803.5 403.0L804.4 401.8L805.3 400.6L806.2 399.4L807.1 398.2L808.0 397.0L808.9 395.8L809.8 394.6L810.7 393.4L811.6 392.2L812.5 391.0L813.4 389.8L814.3 388.6L815.2 387.4L816.1 386.2L817.0 384.9L817.9 383.7L818.8 382.5L819.7 381.3L820.6 380.1L821.5 378.9L822.4 377.7L823.3 376.5L824.2 375.3L825.1 374.1L826.0 372.9L826.9 371.7L827.8 370.5L828.7 369.3L829.6 368.1L830.5 366.9L831.4 365.7L832.3 364.5L833.2 363.3L834.1 362.1L835.0 360.9L835.9 359.6L836.8 358.4L837.7 357.2L838.6 356.0L839.5 354.8L840.4 353.6L841.3 352.4L842.2 351.2L843.1 350.0L844.0 348.8L844.9 347.6L845.8 346.4L846.7 345.2L847.6 344.0L848.5 342.8L849.4 341.6L850.3 340.4L851.2 339.2L852.1 337.9L853.0 336.7L853.9 335.5L854.8 334.3L855.7 333.1L856.6 331.9L857.5 330.7L858.4 329.5L859.3 328.3L860.2 327.1L861.0 325.9L861.9 324.7L862.8 323.5L863.7 322.3L864.6 321.1L865.5 319.9L866.4 318.7L867.3 317.5L868.2 316.2L869.1 315.0L870.0 313.8L870.9 312.6L871.8 311.4L872.7 310.2L873.6 309.0L874.5 307.8L875.4 306.6L876.3 305.4L877.2 304.2L878.1 303.0L879.0 301.8L879.9 300.6L880.8 299.3L881.7 298.1L882.6 296.9L883.5 295.7L884.4 294.5L885.3 293.3L886.1 292.1L887.0 290.9L887.9 289.7L888.8 288.5L889.7 287.3L890.6 286.1L891.5 284.9L892.4 283.6L893.3 282.4L894.2 281.2L895.1 280.0L896.0 278.8L896.9 277.6L897.7 276.4L898.6 275.2L899.5 273.9L900.4 272.7L901.3 271.5L902.2 270.3L903.1 269.1L903.9 267.9L904.8 266.7L905.7 265.4L906.6 264.2L907.5 263.0L908.3 261.8L909.2 260.6L910.1 259.3L911.0 258.1L911.9 256.9L912.7 255.7L913.6 254.5L914.5 253.2L915.4 252.0L916.3 250.8L917.1 249.6L918.0 248.4L918.9 247.1L919.8 245.9L920.6 244.7L921.5 243.5L922.4 242.3L923.3 241.0L924.2 239.8L925.0 238.6L925.9 237.4L926.8 236.2L927.7 234.9L928.6 233.7L929.4 232.5L930.3 231.3L931.2 230.1L932.1 228.8L932.9 227.6L933.8 226.4L934.7 225.2L935.6 224.0L936.5 222.7L937.3 221.5L938.2 220.3L939.1 219.1L939.9 217.8L940.8 216.6L941.7 215.4L942.5 214.2L943.4 212.9L944.3 211.7L945.1 210.5L946.0 209.2L946.8 208.0L947.7 206.8L948.5 205.5L949.4 204.3L950.2 203.0L951.1 201.8L951.9 200.5L952.8 199.3L953.6 198.1L954.5 196.8L955.3 195.6L956.2 194.3L957.0 193.1L957.9 191.9L958.7 190.6L959.6 189.4L960.4 188.1L961.3 186.9L962.1 185.7L963.0 184.4L963.8 183.2L964.7 181.9L965.5 180.7L966.3 179.5L967.2 178.2L968.0 177.0L968.9 175.7L969.7 174.5L970.5 173.2L971.4 172.0L972.2 170.7L973.0 169.4L973.8 168.2L974.7 166.9L975.5 165.7L976.3 164.4L977.1 163.2L978.0 161.9L978.8 160.6L979.6 159.4L980.4 158.1L981.2 156.8L982.0 155.6L982.8 154.3L983.6 153.0L984.4 151.7L985.2 150.5L986.0 149.2L986.8 147.9L987.6 146.6L988.3 145.3L989.1 144.0L989.9 142.7L990.6 141.5L991.4 140.1L992.1 138.8L992.8 137.5L993.6 136.2L994.3 134.9L995.0 133.6L995.7 132.2L996.4 130.9L997.1 129.6L997.8 128.2L998.5 126.9L999.2 125.6L999.8 124.2L1000.5 122.9L1001.2 121.5L1001.8 120.2L1002.5 118.8L1003.1 117.5L1003.7 116.1L1004.4 114.7L1005.0 113.4L1005.6 112.0L1006.2 110.6L1006.8 109.2L1007.3 107.8L1007.8 106.4L1008.2 105.0L1008.6 103.5L1009.0 102.1L1009.4 100.6L1009.9 99.2L1010.3 97.7L1010.7 96.3L1011.1 94.8L1011.5 93.4L1011.8 91.9L1012.1 90.4L1012.4 89.0L1012.6 87.5L1012.9 86.0L1013.1 84.5L1013.3 83.0L1013.6 81.5L1014.1 80.1L1014.7 78.8L1015.6 77.5L1016.7 76.5L1018.0 75.7L1019.4 75.2L1020.8 74.7L1022.2 74.3L1023.7 73.9L1025.2 73.6L1026.6 73.3L1028.1 73.1L1029.6 72.8L1031.1 72.7L1032.6 72.5L1034.1 72.4L1035.6 72.3L1037.1 72.1L1038.6 72.0L1040.1 71.9L1041.6 71.8L1043.1 71.7L1044.6 71.6L1046.1 71.5L1047.6 71.4L1049.1 71.3L1050.6 71.2L1052.1 71.2L1053.6 71.1L1055.1 71.0L1056.6 71.0L1058.1 70.9L1059.6 70.9L1061.1 70.9L1062.6 70.8L1064.1 70.8L1065.6 70.8L1067.1 70.7L1068.6 70.7L1070.1 70.7L1071.6 70.6L1073.1 70.6L1074.6 70.6L1076.1 70.6L1077.6 70.5L1079.1 70.5L1080.6 70.5L1082.1 70.5L1083.7 70.4L1085.2 70.4L1086.7 70.4L1088.2 70.4L1089.7 70.4L1091.2 70.3L1092.7 70.3L1094.2 70.3L1095.7 70.3L1097.2 70.3L1098.7 70.2L1100.2 70.2L1101.7 70.2L1103.2 70.2L1104.7 70.2L1106.2 70.2L1107.7 70.1L1109.2 70.1L1110.7 70.1L1112.2 70.1L1113.7 70.1L1115.2 70.1L1116.7 70.0L1118.2 70.0L1119.7 70.0L1121.2 70.0L1122.7 70.0L1124.2 70.0L1125.7 69.9L1127.2 69.9L1128.7 69.9L1130.2 69.9L1131.8 69.9L1133.3 69.9L1134.8 69.9L1136.3 69.8L1137.8 69.8L1139.3 69.8L1140.8 69.8L1142.3 69.8L1143.8 69.8L1145.3 69.8L1146.8 69.8L1148.3 69.7L1149.8 69.7L1151.3 69.7L1152.8 69.7L1154.3 69.7" fill="none" stroke="#000" stroke-width="1.7" stroke-linejoin="round" stroke-linecap="butt"/>
<path d="M734.3 491.7L735.2 490.5L736.1 489.3L737.0 488.1L737.9 486.9L738.8 485.7L739.7 484.5L740.6 483.3L741.5 482.1L742.4 480.9L743.3 479.7L744.2 478.5L745.1 477.3L746.0 476.1L746.9 474.9L747.8 473.7L748.7 472.5L749.6 471.3L750.5 470.1L751.4 468.9L752.3 467.7L753.2 466.5L754.1 465.3L755.0 464.1L755.9 462.9L756.8 461.7L757.7 460.4L758.6 459.2L759.5 458.0L760.4 456.8L761.3 455.6L762.2 454.4L763.1 453.2L764.0 452.0L764.9 450.8L765.8 449.6L766.7 448.4L767.6 447.2L768.5 446.0L769.4 444.8L770.3 443.6L771.2 442.4L772.1 441.2L773.0 440.0L773.9 438.8L774.8 437.6L775.7 436.4L776.6 435.2L777.5 434.0L778.4 432.8L779.3 431.6L780.2 430.4L781.1 429.2L782.0 428.0L782.9 426.8L783.7 425.5L784.6 424.3L785.5 423.1L786.4 421.9L787.3 420.7L788.2 419.5L789.1 418.3L790.0 417.1L790.9 415.9L791.8 414.7L792.7 413.5L793.6 412.3L794.5 411.1L795.4 409.9L796.3 408.7L797.2 407.5L798.1 406.3L799.0 405.1L799.9 403.9L800.8 402.7L801.7 401.5L802.6 400.3L803.5 399.1L804.4 397.8L805.3 396.6L806.2 395.4L807.1 394.2L808.0 393.0L808.9 391.8L809.8 390.6L810.7 389.4L811.6 388.2L812.5 387.0L813.4 385.8L814.2 384.6L815.1 383.4L816.0 382.2L816.9 381.0L817.8 379.8L818.7 378.6L819.6 377.4L820.5 376.2L821.4 375.0L822.3 373.7L823.2 372.5L824.1 371.3L825.0 370.1L825.9 368.9L826.8 367.7L827.7 366.5L828.6 365.3L829.5 364.1L830.4 362.9L831.3 361.7L832.2 360.5L833.1 359.3L834.0 358.1L834.9 356.9L835.7 355.7L836.6 354.5L837.5 353.3L838.4 352.0L839.3 350.8L840.2 349.6L841.1 348.4L842.0 347.2L842.9 346.0L843.8 344.8L844.7 343.6L845.6 342.4L846.5 341.2L847.4 340.0L848.3 338.8L849.2 337.6L850.0 336.3L850.9 335.1L851.8 333.9L852.7 332.7L853.6 331.5L854.5 330.3L855.4 329.1L856.3 327.9L857.2 326.7L858.0 325.5L858.9 324.2L859.8 323.0L860.7 321.8L861.6 320.6L862.5 319.4L863.4 318.2L864.2 317.0L865.1 315.8L866.0 314.5L866.9 313.3L867.8 312.1L868.7 310.9L869.6 309.7L870.4 308.5L871.3 307.3L872.2 306.0L873.1 304.8L874.0 303.6L874.9 302.4L875.7 301.2L876.6 300.0L877.5 298.7L878.4 297.5L879.3 296.3L880.1 295.1L881.0 293.9L881.9 292.7L882.8 291.5L883.7 290.2L884.5 289.0L885.4 287.8L886.3 286.6L887.2 285.4L888.1 284.2L889.0 282.9L889.8 281.7L890.7 280.5L891.6 279.3L892.5 278.1L893.3 276.8L894.2 275.6L895.1 274.4L896.0 273.2L896.9 272.0L897.7 270.8L898.6 269.5L899.5 268.3L900.4 267.1L901.2 265.9L902.1 264.6L903.0 263.4L903.8 262.2L904.7 261.0L905.6 259.7L906.5 258.5L907.3 257.3L908.2 256.1L909.1 254.8L909.9 253.6L910.8 252.4L911.7 251.2L912.5 249.9L913.4 248.7L914.3 247.5L915.1 246.3L916.0 245.0L916.8 243.8L917.7 242.6L918.6 241.3L919.4 240.1L920.3 238.9L921.2 237.6L922.0 236.4L922.9 235.2L923.7 234.0L924.6 232.7L925.4 231.5L926.3 230.3L927.2 229.0L928.0 227.8L928.9 226.5L929.7 225.3L930.6 224.1L931.4 222.8L932.3 221.6L933.1 220.4L934.0 219.1L934.8 217.9L935.6 216.6L936.5 215.4L937.3 214.1L938.2 212.9L939.0 211.7L939.8 210.4L940.7 209.2L941.5 207.9L942.4 206.7L943.2 205.4L944.0 204.2L944.8 202.9L945.7 201.7L946.5 200.4L947.3 199.1L948.1 197.9L949.0 196.6L949.8 195.4L950.6 194.1L951.4 192.8L952.2 191.6L953.0 190.3L953.8 189.0L954.6 187.8L955.4 186.5L956.2 185.2L957.0 184.0L957.8 182.7L958.6 181.4L959.4 180.1L960.2 178.8L961.0 177.6L961.7 176.3L962.5 175.0L963.3 173.7L964.1 172.4L964.9 171.1L965.6 169.8L966.4 168.6L967.2 167.3L967.9 166.0L968.7 164.7L969.4 163.4L970.2 162.1L970.9 160.8L971.7 159.5L972.4 158.2L973.2 156.9L973.9 155.6L974.7 154.3L975.4 152.9L976.1 151.6L976.8 150.3L977.6 149.0L978.3 147.7L979.0 146.3L979.7 145.0L980.3 143.7L981.0 142.3L981.7 141.0L982.4 139.7L983.0 138.3L983.7 137.0L984.4 135.6L985.0 134.3L985.7 132.9L986.3 131.5L987.0 130.2L987.6 128.8L988.2 127.5L988.8 126.1L989.5 124.7L990.1 123.4L990.7 122.0L991.3 120.6L991.8 119.2L992.4 117.8L992.9 116.4L993.4 115.0L993.9 113.6L994.3 112.1L994.7 110.7L995.1 109.2L995.5 107.8L995.9 106.3L996.2 104.9L996.5 103.4L996.6 101.9L996.8 100.4L996.9 98.9" fill="none" stroke="#000" stroke-width="1.7" stroke-linejoin="round" stroke-linecap="butt"/>
<path d="M997.1 91.7L996.8 90.2L996.5 88.7L996.1 87.2L995.7 85.7L995.3 84.2L994.8 82.8L994.1 81.4L993.4 80.0L992.6 78.7L991.6 77.5L990.6 76.4L989.7 75.2L988.9 73.9L988.2 72.5L987.8 71.0" fill="none" stroke="#000" stroke-width="1.7" stroke-linejoin="round" stroke-linecap="butt" stroke-dasharray="6.6 5.2"/>
<path d="M988.0 70.6L1030.0 70.0L1150.2 69.6" fill="none" stroke="#000" stroke-width="1.7" stroke-linejoin="round" stroke-linecap="butt"/>
<path d="M734.3 489.3L735.2 488.1L736.1 486.9L737.0 485.7L737.9 484.5L738.8 483.3L739.7 482.1L740.6 480.9L741.5 479.7L742.4 478.5L743.3 477.3L744.2 476.1L745.1 474.9L746.0 473.7L746.9 472.5L747.8 471.3L748.7 470.1L749.6 468.9L750.5 467.7L751.4 466.5L752.3 465.3L753.2 464.0L754.1 462.8L755.0 461.6L755.9 460.4L756.8 459.2L757.7 458.0L758.6 456.8L759.4 455.6L760.3 454.4L761.2 453.2L762.1 452.0L763.0 450.8L763.9 449.6L764.8 448.4L765.7 447.2L766.6 446.0L767.5 444.7L768.4 443.5L769.3 442.3L770.2 441.1L771.1 439.9L772.0 438.7L772.9 437.5L773.8 436.3L774.7 435.1L775.6 433.9L776.5 432.7L777.3 431.5L778.2 430.3L779.1 429.1L780.0 427.8L780.9 426.6L781.8 425.4L782.7 424.2L783.6 423.0L784.5 421.8L785.4 420.6L786.3 419.4L787.2 418.2L788.1 417.0L789.0 415.8L789.9 414.6L790.8 413.4L791.6 412.1L792.5 410.9L793.4 409.7L794.3 408.5L795.2 407.3L796.1 406.1L797.0 404.9L797.9 403.7L798.8 402.5L799.7 401.3L800.6 400.1L801.5 398.8L802.3 397.6L803.2 396.4L804.1 395.2L805.0 394.0L805.9 392.8L806.8 391.6L807.7 390.4L808.6 389.2L809.5 387.9L810.3 386.7L811.2 385.5L812.1 384.3L813.0 383.1L813.9 381.9L814.8 380.7L815.7 379.5L816.6 378.2L817.4 377.0L818.3 375.8L819.2 374.6L820.1 373.4L821.0 372.2L821.9 371.0L822.8 369.7L823.6 368.5L824.5 367.3L825.4 366.1L826.3 364.9L827.2 363.7L828.1 362.5L828.9 361.2L829.8 360.0L830.7 358.8L831.6 357.6L832.5 356.4L833.4 355.2L834.2 353.9L835.1 352.7L836.0 351.5L836.9 350.3L837.8 349.1L838.6 347.9L839.5 346.6L840.4 345.4L841.3 344.2L842.2 343.0L843.0 341.8L843.9 340.5L844.8 339.3L845.7 338.1L846.5 336.9L847.4 335.7L848.3 334.4L849.2 333.2L850.0 332.0L850.9 330.8L851.8 329.5L852.7 328.3L853.5 327.1L854.4 325.9L855.3 324.6L856.1 323.4L857.0 322.2L857.9 321.0L858.7 319.7L859.6 318.5L860.5 317.3L861.3 316.0L862.2 314.8L863.1 313.6L863.9 312.4L864.8 311.1L865.6 309.9L866.5 308.7L867.4 307.4L868.2 306.2L869.1 305.0L870.0 303.8L870.8 302.5L871.7 301.3L872.5 300.1L873.4 298.8L874.3 297.6L875.1 296.4L876.0 295.1L876.8 293.9L877.7 292.7L878.6 291.4L879.4 290.2L880.3 289.0L881.2 287.7L882.0 286.5L882.9 285.3L883.7 284.1L884.6 282.8L885.5 281.6L886.3 280.4L887.2 279.1L888.0 277.9L888.9 276.7L889.7 275.4L890.6 274.2L891.4 272.9L892.3 271.7L893.1 270.4L894.0 269.2L894.8 267.9L895.6 266.7L896.4 265.4L897.3 264.2L898.1 262.9L898.9 261.7L899.8 260.4L900.6 259.2L901.4 257.9L902.2 256.7L903.1 255.4L903.9 254.2L904.7 252.9L905.6 251.7L906.4 250.4L907.3 249.2L908.1 247.9L908.9 246.7L909.8 245.4L910.6 244.2L911.5 242.9L912.3 241.7L913.1 240.5L914.0 239.2L914.8 238.0L915.6 236.7L916.5 235.5L917.3 234.2L918.1 233.0L919.0 231.7L919.8 230.5L920.6 229.2L921.5 228.0L922.3 226.7L923.1 225.4L924.0 224.2L924.8 222.9L925.6 221.7L926.4 220.4L927.3 219.2L928.1 217.9L928.9 216.7L929.7 215.4L930.6 214.1L931.4 212.9L932.2 211.6L933.0 210.4L933.8 209.1L934.6 207.8L935.4 206.5L936.2 205.3L937.0 204.0L937.7 202.7L938.5 201.4L939.3 200.1L940.1 198.8L940.9 197.6L941.6 196.3L942.4 195.0L943.1 193.7L943.9 192.4L944.7 191.1L945.4 189.8L946.2 188.5L946.9 187.2L947.7 185.9L948.4 184.6L949.1 183.2L949.9 181.9L950.6 180.6L951.3 179.3L952.0 178.0L952.7 176.7L953.5 175.3L954.2 174.0L954.9 172.7L955.5 171.3L956.2 170.0L956.9 168.7L957.6 167.3L958.2 166.0L958.9 164.6L959.5 163.3L960.2 161.9L960.8 160.5L961.4 159.2L962.1 157.8L962.7 156.4L963.3 155.1L963.9 153.7L964.5 152.3L965.1 150.9L965.7 149.6L966.3 148.2L966.9 146.8L967.5 145.4L968.0 144.0L968.6 142.6L969.2 141.3L969.8 139.9L970.3 138.5L970.9 137.1L971.4 135.7L972.0 134.3L972.5 132.9L973.1 131.5L973.6 130.1L974.1 128.7L974.6 127.2L975.1 125.8L975.6 124.4L976.1 123.0L976.5 121.5L976.9 120.1L977.2 118.6L977.6 117.2L977.9 115.7L978.2 114.2L978.5 112.7L978.8 111.3L979.1 109.8" fill="none" stroke="#000" stroke-width="1.7" stroke-linejoin="round" stroke-linecap="butt"/>
<path d="M979.3 94.0L978.8 92.6L978.3 91.1L977.8 89.7L977.4 88.2L976.9 86.8L976.2 85.4L975.4 84.1L974.4 82.9L973.4 81.8L972.3 80.7L971.2 79.6L970.1 78.6L968.9 77.6L967.7 76.7L966.5 75.7L965.3 74.8L964.1 73.9L962.9 72.9L961.7 72.0L960.5 71.0" fill="none" stroke="#000" stroke-width="1.7" stroke-linejoin="round" stroke-linecap="butt" stroke-dasharray="8.4 5.0" stroke-dashoffset="3.9"/>
<path d="M960.5 70.6L1000.0 70.0L1123.2 69.5" fill="none" stroke="#000" stroke-width="1.7" stroke-linejoin="round" stroke-linecap="butt"/>
<path d="M734.3 485.5L735.2 484.3L736.1 483.1L737.0 481.9L737.8 480.7L738.7 479.4L739.6 478.2L740.5 477.0L741.4 475.8L742.3 474.6L743.1 473.4L744.0 472.2L744.9 471.0L745.8 469.7L746.7 468.5L747.6 467.3L748.4 466.1L749.3 464.9L750.2 463.7L751.1 462.4L752.0 461.2L752.8 460.0L753.7 458.8L754.6 457.6L755.5 456.4L756.3 455.2L757.2 453.9L758.1 452.7L759.0 451.5L759.9 450.3L760.7 449.1L761.6 447.8L762.5 446.6L763.4 445.4L764.2 444.2L765.1 443.0L766.0 441.8L766.9 440.5L767.7 439.3L768.6 438.1L769.5 436.9L770.3 435.6L771.2 434.4L772.1 433.2L773.0 432.0L773.8 430.8L774.7 429.5L775.6 428.3L776.4 427.1L777.3 425.9L778.2 424.7L779.1 423.4L779.9 422.2L780.8 421.0L781.7 419.8L782.5 418.5L783.4 417.3L784.3 416.1L785.1 414.9L786.0 413.6L786.9 412.4L787.7 411.2L788.6 410.0L789.5 408.7L790.3 407.5L791.2 406.3L792.0 405.0L792.9 403.8L793.8 402.6L794.6 401.4L795.5 400.1L796.3 398.9L797.2 397.7L798.0 396.4L798.9 395.2L799.7 394.0L800.6 392.7L801.4 391.5L802.3 390.3L803.1 389.0L804.0 387.8L804.8 386.5L805.7 385.3L806.5 384.1L807.4 382.8L808.2 381.6L809.1 380.3L809.9 379.1L810.7 377.9L811.6 376.6L812.4 375.4L813.3 374.1L814.1 372.9L814.9 371.6L815.8 370.4L816.6 369.1L817.4 367.9L818.3 366.6L819.1 365.4L819.9 364.1L820.8 362.9L821.6 361.6L822.4 360.4L823.2 359.1L824.1 357.9L824.9 356.6L825.7 355.4L826.5 354.1L827.3 352.9L828.2 351.6L829.0 350.3L829.8 349.1L830.6 347.8L831.4 346.5L832.2 345.3L833.0 344.0L833.8 342.8L834.6 341.5L835.4 340.2L836.2 339.0L837.0 337.7L837.8 336.4L838.6 335.1L839.4 333.9L840.2 332.6L841.0 331.3L841.8 330.1L842.6 328.8L843.4 327.5L844.2 326.2L845.0 324.9L845.7 323.7L846.5 322.4L847.3 321.1L848.1 319.8L848.8 318.5L849.6 317.2L850.4 315.9L851.1 314.6L851.9 313.4L852.7 312.1L853.4 310.8L854.2 309.5L854.9 308.2L855.7 306.9L856.4 305.6L857.2 304.3L857.9 303.0L858.7 301.7L859.4 300.4L860.2 299.1L860.9 297.8L861.7 296.5L862.5 295.2L863.2 293.9L864.0 292.6L864.7 291.3L865.5 290.0L866.2 288.7L867.0 287.4L867.7 286.1L868.4 284.8L869.2 283.5L869.9 282.2L870.7 280.9L871.4 279.6L872.1 278.2L872.8 276.9L873.5 275.6L874.3 274.3L875.0 273.0L875.7 271.6L876.4 270.3L877.1 269.0L877.8 267.7L878.5 266.3L879.2 265.0L879.9 263.7L880.6 262.4L881.3 261.0L882.0 259.7L882.7 258.4L883.4 257.0L884.0 255.7L884.7 254.4L885.4 253.0L886.1 251.7L886.8 250.4L887.5 249.0L888.2 247.7L888.8 246.4L889.5 245.0L890.2 243.7L890.9 242.3L891.5 241.0L892.2 239.7L892.9 238.3L893.6 237.0L894.2 235.6L894.9 234.3L895.6 233.0L896.2 231.6L896.9 230.3L897.6 228.9L898.2 227.6L898.9 226.2L899.5 224.9L900.2 223.5L900.8 222.2L901.5 220.8L902.1 219.5L902.8 218.1L903.4 216.7L904.0 215.4L904.7 214.0L905.3 212.7L905.9 211.3L906.5 209.9L907.2 208.6L907.8 207.2L908.4 205.8L909.0 204.4L909.6 203.1L910.2 201.7L910.8 200.3L911.4 198.9L912.0 197.6L912.6 196.2L913.2 194.8L913.8 193.4L914.4 192.1L914.9 190.7L915.5 189.3L916.1 187.9L916.7 186.5L917.2 185.1L917.8 183.7L918.4 182.3L918.9 181.0L919.5 179.6L920.0 178.2L920.6 176.8L921.1 175.4L921.6 174.0L922.2 172.6L922.7 171.1L923.2 169.7L923.7 168.3L924.2 166.9L924.7 165.5L925.2 164.1L925.7 162.7L926.2 161.3L926.7 159.8L927.2 158.4L927.7 157.0L928.2 155.6L928.6 154.2L929.1 152.7L929.6 151.3L930.0 149.9L930.5 148.4L930.9 147.0L931.4 145.6L931.8 144.1L932.2 142.7L932.6 141.3L933.0 139.8L933.4 138.4L933.8 136.9L934.2 135.5L934.6 134.0L934.9 132.5L935.2 131.1L935.5 129.6L935.8 128.1L936.1 126.7L936.4 125.2L936.6 123.7L936.9 122.2L937.1 120.7L937.3 119.3L937.5 117.8L937.7 116.3L937.9 114.8" fill="none" stroke="#000" stroke-width="1.7" stroke-linejoin="round" stroke-linecap="butt"/>
<path d="M937.7 99.5L937.3 98.0L936.9 96.5L936.5 95.1L936.1 93.6L935.6 92.1L935.1 90.7L934.6 89.2L933.9 87.8L933.2 86.5L932.3 85.3L931.3 84.1L930.2 83.0L929.1 81.9L928.0 80.9L926.8 79.9L925.5 79.0L924.3 78.1L923.0 77.3L921.7 76.5L920.4 75.7L919.0 75.0L917.7 74.2L916.3 73.5L914.9 72.9L913.5 72.3L912.1 71.8L910.6 71.4L909.1 71.1L907.6 70.9L906.0 70.7L904.5 70.6" fill="none" stroke="#000" stroke-width="1.7" stroke-linejoin="round" stroke-linecap="butt" stroke-dasharray="8.4 5.6"/>
<path d="M904.3 70.5L940.0 69.8L1070.3 69.5" fill="none" stroke="#000" stroke-width="1.7" stroke-linejoin="round" stroke-linecap="butt"/>
</g>
<path d="M737.8 481.7a7.0 7.0 0 1 0 14.0 0a7.0 7.0 0 1 0 -14.0 0ZM748.3 467.6a7.0 7.0 0 1 0 14.0 0a7.0 7.0 0 1 0 -14.0 0ZM758.8 453.6a7.0 7.0 0 1 0 14.0 0a7.0 7.0 0 1 0 -14.0 0ZM769.3 439.5a7.0 7.0 0 1 0 14.0 0a7.0 7.0 0 1 0 -14.0 0ZM779.8 425.4a7.0 7.0 0 1 0 14.0 0a7.0 7.0 0 1 0 -14.0 0ZM790.3 411.4a7.0 7.0 0 1 0 14.0 0a7.0 7.0 0 1 0 -14.0 0ZM800.8 397.3a7.0 7.0 0 1 0 14.0 0a7.0 7.0 0 1 0 -14.0 0ZM811.3 383.2a7.0 7.0 0 1 0 14.0 0a7.0 7.0 0 1 0 -14.0 0ZM821.8 369.2a7.0 7.0 0 1 0 14.0 0a7.0 7.0 0 1 0 -14.0 0ZM832.3 355.1a7.0 7.0 0 1 0 14.0 0a7.0 7.0 0 1 0 -14.0 0ZM842.8 341.0a7.0 7.0 0 1 0 14.0 0a7.0 7.0 0 1 0 -14.0 0ZM853.3 326.9a7.0 7.0 0 1 0 14.0 0a7.0 7.0 0 1 0 -14.0 0ZM863.8 312.8a7.0 7.0 0 1 0 14.0 0a7.0 7.0 0 1 0 -14.0 0ZM874.3 298.6a7.0 7.0 0 1 0 14.0 0a7.0 7.0 0 1 0 -14.0 0ZM884.8 284.5a7.0 7.0 0 1 0 14.0 0a7.0 7.0 0 1 0 -14.0 0ZM895.3 270.1a7.0 7.0 0 1 0 14.0 0a7.0 7.0 0 1 0 -14.0 0ZM905.8 255.6a7.0 7.0 0 1 0 14.0 0a7.0 7.0 0 1 0 -14.0 0ZM916.3 241.0a7.0 7.0 0 1 0 14.0 0a7.0 7.0 0 1 0 -14.0 0ZM926.8 226.4a7.0 7.0 0 1 0 14.0 0a7.0 7.0 0 1 0 -14.0 0ZM937.3 211.7a7.0 7.0 0 1 0 14.0 0a7.0 7.0 0 1 0 -14.0 0ZM947.8 196.3a7.0 7.0 0 1 0 14.0 0a7.0 7.0 0 1 0 -14.0 0ZM958.3 181.0a7.0 7.0 0 1 0 14.0 0a7.0 7.0 0 1 0 -14.0 0ZM968.8 165.2a7.0 7.0 0 1 0 14.0 0a7.0 7.0 0 1 0 -14.0 0ZM979.3 148.7a7.0 7.0 0 1 0 14.0 0a7.0 7.0 0 1 0 -14.0 0ZM989.8 130.2a7.0 7.0 0 1 0 14.0 0a7.0 7.0 0 1 0 -14.0 0ZM1000.3 107.9a7.0 7.0 0 1 0 14.0 0a7.0 7.0 0 1 0 -14.0 0ZM1010.8 75.9a7.0 7.0 0 1 0 14.0 0a7.0 7.0 0 1 0 -14.0 0ZM1021.3 73.1a7.0 7.0 0 1 0 14.0 0a7.0 7.0 0 1 0 -14.0 0ZM1031.8 72.0a7.0 7.0 0 1 0 14.0 0a7.0 7.0 0 1 0 -14.0 0ZM1042.3 71.3a7.0 7.0 0 1 0 14.0 0a7.0 7.0 0 1 0 -14.0 0ZM1052.8 70.9a7.0 7.0 0 1 0 14.0 0a7.0 7.0 0 1 0 -14.0 0ZM1063.3 70.7a7.0 7.0 0 1 0 14.0 0a7.0 7.0 0 1 0 -14.0 0ZM1073.8 70.5a7.0 7.0 0 1 0 14.0 0a7.0 7.0 0 1 0 -14.0 0ZM1084.3 70.3a7.0 7.0 0 1 0 14.0 0a7.0 7.0 0 1 0 -14.0 0ZM1094.8 70.2a7.0 7.0 0 1 0 14.0 0a7.0 7.0 0 1 0 -14.0 0ZM1105.3 70.1a7.0 7.0 0 1 0 14.0 0a7.0 7.0 0 1 0 -14.0 0ZM1115.8 70.0a7.0 7.0 0 1 0 14.0 0a7.0 7.0 0 1 0 -14.0 0ZM1126.3 69.9a7.0 7.0 0 1 0 14.0 0a7.0 7.0 0 1 0 -14.0 0ZM1136.8 69.8a7.0 7.0 0 1 0 14.0 0a7.0 7.0 0 1 0 -14.0 0ZM1147.3 69.7a7.0 7.0 0 1 0 14.0 0a7.0 7.0 0 1 0 -14.0 0ZM740.7 476.0L746.9 486.7L734.6 486.7ZM751.2 462.0L757.4 472.6L745.1 472.6ZM761.7 447.9L767.9 458.6L755.6 458.6ZM772.2 433.9L778.4 444.5L766.1 444.5ZM782.7 419.8L788.9 430.4L776.6 430.4ZM793.2 405.7L799.4 416.4L787.1 416.4ZM803.7 391.6L809.9 402.3L797.6 402.3ZM814.2 377.5L820.4 388.1L808.1 388.1ZM824.7 363.4L830.9 374.0L818.6 374.0ZM835.2 349.2L841.4 359.9L829.1 359.9ZM845.7 335.1L851.9 345.7L839.6 345.7ZM856.2 320.8L862.4 331.5L850.1 331.5ZM866.7 306.4L872.9 317.1L860.6 317.1ZM877.2 292.0L883.4 302.6L871.1 302.6ZM887.7 277.5L893.9 288.2L881.6 288.2ZM898.2 262.9L904.4 273.6L892.1 273.6ZM908.7 248.2L914.9 258.8L902.6 258.8ZM919.2 233.3L925.4 243.9L913.1 243.9ZM929.7 218.2L935.9 228.8L923.6 228.8ZM940.2 202.7L946.4 213.4L934.1 213.4ZM950.7 186.8L956.9 197.4L944.6 197.4ZM961.2 170.0L967.4 180.7L955.1 180.7ZM971.7 152.3L977.9 162.9L965.6 162.9ZM982.2 132.8L988.4 143.5L976.1 143.5ZM992.7 109.8L998.9 120.5L986.6 120.5ZM992.7 71.8L998.8 82.5L986.6 82.5ZM1003.2 63.4L1009.4 74.0L997.1 74.0ZM1013.7 63.3L1019.9 74.0L1007.6 74.0ZM1024.2 63.3L1030.4 73.9L1018.1 73.9ZM1034.7 63.2L1040.9 73.9L1028.6 73.9ZM1045.2 63.1L1051.4 73.8L1039.1 73.8ZM1055.7 63.1L1061.9 73.7L1049.6 73.7ZM1066.2 63.0L1072.4 73.7L1060.1 73.7ZM1076.7 62.9L1082.9 73.6L1070.6 73.6ZM1087.2 62.9L1093.4 73.5L1081.1 73.5ZM1097.7 62.8L1103.9 73.5L1091.6 73.5ZM1108.2 62.8L1114.4 73.4L1102.1 73.4ZM1118.7 62.7L1124.9 73.3L1112.6 73.3ZM1129.2 62.6L1135.4 73.3L1123.1 73.3ZM1139.7 62.6L1145.9 73.2L1133.6 73.2ZM1150.2 62.5L1156.4 73.1L1144.1 73.1ZM744.8 482.4L750.9 471.7L738.7 471.7ZM755.3 468.3L761.4 457.6L749.2 457.6ZM765.8 454.1L771.9 443.5L759.7 443.5ZM776.3 440.0L782.4 429.3L770.2 429.3ZM786.8 425.8L792.9 415.2L780.7 415.2ZM797.3 411.6L803.4 400.9L791.2 400.9ZM807.8 397.3L813.9 386.6L801.7 386.6ZM818.3 382.9L824.4 372.3L812.2 372.3ZM828.8 368.5L834.9 357.9L822.7 357.9ZM839.3 354.1L845.4 343.4L833.2 343.4ZM849.8 339.4L855.9 328.8L843.7 328.8ZM860.3 324.6L866.4 314.0L854.2 314.0ZM870.8 309.6L876.9 299.0L864.7 299.0ZM881.3 294.6L887.4 284.0L875.2 284.0ZM891.8 279.5L897.9 268.9L885.7 268.9ZM902.3 263.7L908.4 253.0L896.2 253.0ZM912.8 248.0L918.9 237.4L906.7 237.4ZM923.3 232.3L929.4 221.6L917.2 221.6ZM933.8 216.2L939.9 205.5L927.7 205.5ZM944.3 198.8L950.4 188.1L938.2 188.1ZM954.8 179.9L960.9 169.2L948.7 169.2ZM965.3 157.6L971.4 146.9L959.2 146.9ZM975.8 130.9L981.9 120.3L969.7 120.3ZM975.9 92.2L982.0 81.5L969.8 81.5ZM965.4 82.0L971.5 71.4L959.3 71.4ZM965.3 77.4L971.4 66.8L959.2 66.8ZM975.8 77.3L981.9 66.7L969.7 66.7ZM986.3 77.3L992.4 66.6L980.2 66.6ZM996.8 77.2L1002.9 66.6L990.7 66.6ZM1007.3 77.2L1013.4 66.5L1001.2 66.5ZM1017.8 77.1L1023.9 66.5L1011.7 66.5ZM1028.3 77.1L1034.4 66.4L1022.2 66.4ZM1038.8 77.0L1044.9 66.4L1032.7 66.4ZM1049.3 77.0L1055.4 66.3L1043.2 66.3ZM1059.8 76.9L1065.9 66.3L1053.7 66.3ZM1070.3 76.9L1076.4 66.2L1064.2 66.2ZM1080.8 76.8L1086.9 66.2L1074.7 66.2ZM1091.3 76.8L1097.4 66.1L1085.2 66.1ZM1101.8 76.7L1107.9 66.1L1095.7 66.1ZM1112.3 76.7L1118.4 66.0L1106.2 66.0ZM1122.8 76.6L1128.9 66.0L1116.7 66.0ZM734.3 478.5L741.3 485.5L734.3 492.5L727.3 485.5ZM744.8 464.1L751.8 471.1L744.8 478.1L737.8 471.1ZM755.3 449.6L762.3 456.6L755.3 463.6L748.3 456.6ZM765.8 435.0L772.8 442.0L765.8 449.0L758.8 442.0ZM776.3 420.3L783.3 427.3L776.3 434.3L769.3 427.3ZM786.8 405.5L793.8 412.5L786.8 419.5L779.8 412.5ZM797.3 390.5L804.3 397.5L797.3 404.5L790.3 397.5ZM807.8 375.2L814.8 382.2L807.8 389.2L800.8 382.2ZM818.3 359.6L825.3 366.6L818.3 373.6L811.3 366.6ZM828.8 343.6L835.8 350.6L828.8 357.6L821.8 350.6ZM839.3 327.1L846.3 334.1L839.3 341.1L832.3 334.1ZM849.8 309.9L856.8 316.9L849.8 323.9L842.8 316.9ZM860.3 291.9L867.3 298.9L860.3 305.9L853.3 298.9ZM870.8 273.6L877.8 280.6L870.8 287.6L863.8 280.6ZM881.3 254.0L888.3 261.0L881.3 268.0L874.3 261.0ZM891.8 233.5L898.8 240.5L891.8 247.5L884.8 240.5ZM902.3 212.1L909.3 219.1L902.3 226.1L895.3 219.1ZM912.8 188.7L919.8 195.7L912.8 202.7L905.8 195.7ZM923.3 162.5L930.3 169.5L923.3 176.5L916.3 169.5ZM933.8 130.0L940.8 137.0L933.8 144.0L926.8 137.0ZM933.7 80.4L940.7 87.4L933.7 94.4L926.7 87.4ZM923.3 70.5L930.3 77.5L923.3 84.5L916.3 77.5ZM912.8 65.0L919.8 72.0L912.8 79.0L905.8 72.0ZM912.8 62.5L919.8 69.5L912.8 76.5L905.8 69.5ZM923.3 62.5L930.3 69.5L923.3 76.5L916.3 69.5ZM933.8 62.5L940.8 69.5L933.8 76.5L926.8 69.5ZM944.3 62.5L951.3 69.5L944.3 76.5L937.3 69.5ZM954.8 62.5L961.8 69.5L954.8 76.5L947.8 69.5ZM965.3 62.5L972.3 69.5L965.3 76.5L958.3 69.5ZM975.8 62.5L982.8 69.5L975.8 76.5L968.8 69.5ZM986.3 62.5L993.3 69.5L986.3 76.5L979.3 69.5ZM996.8 62.5L1003.8 69.5L996.8 76.5L989.8 69.5ZM1007.3 62.5L1014.3 69.5L1007.3 76.5L1000.3 69.5ZM1017.8 62.5L1024.8 69.5L1017.8 76.5L1010.8 69.5ZM1028.3 62.5L1035.3 69.5L1028.3 76.5L1021.3 69.5ZM1038.8 62.5L1045.8 69.5L1038.8 76.5L1031.8 69.5ZM1049.3 62.5L1056.3 69.5L1049.3 76.5L1042.3 69.5ZM1059.8 62.5L1066.8 69.5L1059.8 76.5L1052.8 69.5ZM1070.3 62.5L1077.3 69.5L1070.3 76.5L1063.3 69.5Z" fill="none" stroke="#000" stroke-width="1.1" stroke-linejoin="miter"/>
<clipPath id="cc"><rect x="121.2" y="590" width="440" height="434.1"/></clipPath>
<g clip-path="url(#cc)">
<path d="M121.2 926.2L401.1 645.9" fill="none" stroke="#000" stroke-width="1.9" stroke-linejoin="round" stroke-linecap="round" stroke-dasharray="0.01 2.85"/>
<path d="M401.1 841.8L540.9 981.8" fill="none" stroke="#000" stroke-width="1.9" stroke-linejoin="round" stroke-linecap="round" stroke-dasharray="0.01 2.85"/>
<path d="M121.2 940.6L122.3 939.5L123.3 938.5L124.4 937.4L125.5 936.4L126.5 935.3L127.6 934.2L128.6 933.2L129.7 932.1L130.8 931.1L131.8 930.0L132.9 928.9L134.0 927.9L135.0 926.8L136.1 925.7L137.2 924.7L138.2 923.6L139.3 922.6L140.3 921.5L141.4 920.4L142.5 919.4L143.5 918.3L144.6 917.3L145.7 916.2L146.7 915.1L147.8 914.1L148.9 913.0L149.9 912.0L151.0 910.9L152.1 909.8L153.1 908.8L154.2 907.7L155.2 906.7L156.3 905.6L157.4 904.5L158.4 903.5L159.5 902.4L160.6 901.4L161.6 900.3L162.7 899.2L163.8 898.2L164.8 897.1L165.9 896.0L166.9 895.0L168.0 893.9L169.1 892.9L170.1 891.8L171.2 890.7L172.3 889.7L173.3 888.6L174.4 887.6L175.5 886.5L176.5 885.4L177.6 884.4L178.6 883.3L179.7 882.3L180.8 881.2L181.8 880.1L182.9 879.1L184.0 878.0L185.0 877.0L186.1 875.9L187.2 874.8L188.2 873.8L189.3 872.7L190.3 871.7L191.4 870.6L192.5 869.5L193.5 868.5L194.6 867.4L195.7 866.3L196.7 865.3L197.8 864.2L198.9 863.2L199.9 862.1L201.0 861.0L202.0 860.0L203.1 858.9L204.2 857.9L205.2 856.8L206.3 855.7L207.4 854.7L208.4 853.6L209.5 852.6L210.6 851.5L211.6 850.4L212.7 849.4L213.8 848.3L214.8 847.3L215.9 846.2L216.9 845.1L218.0 844.1L219.1 843.0L220.1 841.9L221.2 840.9L222.3 839.8L223.3 838.8L224.4 837.7L225.4 836.6L226.5 835.6L227.6 834.5L228.6 833.5L229.7 832.4L230.8 831.3L231.8 830.3L232.9 829.2L234.0 828.2L235.0 827.1L236.1 826.0L237.2 825.0L238.2 823.9L239.3 822.9L240.4 821.8L241.4 820.8L242.5 819.7L243.6 818.6L244.6 817.6L245.7 816.5L246.8 815.5L247.8 814.4L248.9 813.4L250.0 812.3L251.1 811.3L252.1 810.2L253.2 809.1L254.3 808.1L255.3 807.0L256.4 806.0L257.5 804.9L258.6 803.9L259.6 802.8L260.7 801.8L261.8 800.7L262.9 799.7L263.9 798.6L265.0 797.6L266.1 796.5L267.2 795.5L268.2 794.5L269.3 793.4L270.4 792.4L271.5 791.3L272.6 790.3L273.6 789.2L274.7 788.2L275.8 787.2L276.9 786.1L278.0 785.1L279.1 784.0L280.1 783.0L281.2 782.0L282.3 780.9L283.4 779.9L284.5 778.8L285.6 777.8L286.7 776.8L287.8 775.7L288.9 774.7L289.9 773.7L291.0 772.7L292.1 771.6L293.2 770.6L294.3 769.6L295.4 768.5L296.5 767.5L297.6 766.5L298.7 765.5L299.8 764.4L300.9 763.4L302.0 762.4L303.1 761.3L304.2 760.3L305.3 759.3L306.4 758.2L307.5 757.2L308.5 756.2L309.6 755.1L310.7 754.1L311.8 753.1L312.9 752.0L314.0 751.0L315.1 749.9L316.1 748.9L317.2 747.9L318.3 746.8L319.4 745.8L320.4 744.7L321.5 743.7L322.6 742.6L323.7 741.6L324.8 740.6L325.9 739.6L327.1 738.6L328.2 737.6L329.4 736.7L330.5 735.7L331.7 734.8L333.0 733.9L334.2 733.1L335.4 732.2L336.7 731.4L337.9 730.5L339.2 729.7L340.4 728.9L341.7 728.1L343.0 727.3L344.2 726.5L345.5 725.6L346.7 724.8L348.1 724.1L349.5 724.4L350.6 725.5L351.2 726.8L351.6 728.2L351.9 729.7L352.2 731.2L352.5 732.7L352.8 734.1L353.1 735.6L353.4 737.1L353.6 738.6L353.9 740.0L354.2 741.5L354.5 743.0L354.8 744.5L355.1 745.9L355.4 747.4L355.8 748.9L356.1 750.3L356.5 751.8L356.9 753.2L357.4 754.7L357.8 756.1L358.4 757.5L359.0 758.8L359.6 760.2L360.2 761.6L360.8 763.0L361.3 764.4L361.9 765.8L362.5 767.1L363.1 768.5L363.8 769.9L364.4 771.2L365.0 772.6L365.7 773.9L366.4 775.3L367.2 776.6L367.9 777.9L368.7 779.2L369.5 780.4L370.3 781.7L371.1 782.9L372.0 784.2L372.9 785.4L373.7 786.6L374.6 787.9L375.5 789.1L376.4 790.3L377.3 791.5L378.2 792.7L379.1 793.9L380.0 795.0L381.0 796.2L381.9 797.4L382.8 798.6L383.8 799.7L384.7 800.9L385.7 802.1L386.6 803.2L387.6 804.4L388.6 805.5L389.6 806.7L390.5 807.8L391.5 808.9L392.5 810.1L393.5 811.2L394.5 812.3L395.5 813.4L396.5 814.5L397.6 815.6L398.6 816.7L399.6 817.8L400.6 819.0L401.6 820.1L402.6 821.2L403.7 822.3L404.7 823.4L405.7 824.5L406.7 825.6L407.8 826.7L408.8 827.8L409.8 828.8L410.9 829.9L411.9 831.0L412.9 832.1L414.0 833.2L415.0 834.3L416.0 835.4L417.1 836.5L418.1 837.5L419.2 838.6L420.2 839.7L421.3 840.8L422.3 841.8L423.4 842.9L424.4 844.0L425.5 845.1L426.5 846.1L427.6 847.2L428.6 848.3L429.6 849.4L430.7 850.5L431.7 851.5L432.8 852.6L433.8 853.7L434.9 854.8L435.9 855.9L436.9 857.0L438.0 858.0L439.0 859.1L440.1 860.2L441.1 861.3L442.2 862.3L443.3 863.4L444.3 864.4L445.4 865.5L446.5 866.6L447.5 867.6L448.6 868.7L449.7 869.7L450.8 870.7L451.9 871.8L452.9 872.8L454.0 873.9L455.1 874.9L456.2 876.0L457.3 877.0L458.3 878.0L459.4 879.1L460.5 880.2L461.6 881.2L462.6 882.3L463.7 883.3L464.8 884.4L465.8 885.4L466.9 886.5L468.0 887.6L469.0 888.6L470.1 889.7L471.1 890.7L472.2 891.8L473.3 892.9L474.3 893.9L475.4 895.0L476.4 896.1L477.5 897.1L478.6 898.2L479.6 899.2L480.7 900.3L481.8 901.4L482.8 902.4L483.9 903.5L484.9 904.6L486.0 905.6L487.1 906.7L488.1 907.7L489.2 908.8L490.2 909.9L491.3 910.9L492.4 912.0L493.4 913.1L494.5 914.1L495.6 915.2L496.6 916.3L497.7 917.3L498.7 918.4L499.8 919.4L500.9 920.5L501.9 921.6L503.0 922.6L504.0 923.7L505.1 924.8L506.2 925.8L507.2 926.9L508.3 927.9L509.4 929.0L510.4 930.1L511.5 931.1L512.5 932.2L513.6 933.3L514.7 934.3L515.7 935.4L516.8 936.5L517.8 937.5L518.9 938.6L520.0 939.6L521.0 940.7L522.1 941.8L523.2 942.8L524.2 943.9L525.3 945.0L526.3 946.0L527.4 947.1L528.5 948.1L529.5 949.2L530.6 950.3L531.6 951.3L532.7 952.4L533.8 953.5L534.8 954.5L535.9 955.6L537.0 956.6L538.0 957.7L539.1 958.8L540.1 959.8L541.2 960.9" fill="none" stroke="#000" stroke-width="1.7" stroke-linejoin="round" stroke-linecap="butt"/>
<path d="M121.2 934.0L122.3 932.9L123.3 931.9L124.4 930.8L125.5 929.7L126.5 928.7L127.6 927.6L128.6 926.5L129.7 925.5L130.8 924.4L131.8 923.3L132.9 922.3L134.0 921.2L135.0 920.2L136.1 919.1L137.2 918.0L138.2 917.0L139.3 915.9L140.3 914.8L141.4 913.8L142.5 912.7L143.5 911.6L144.6 910.6L145.7 909.5L146.7 908.4L147.8 907.4L148.9 906.3L149.9 905.2L151.0 904.2L152.0 903.1L153.1 902.0L154.2 901.0L155.2 899.9L156.3 898.9L157.4 897.8L158.4 896.7L159.5 895.7L160.6 894.6L161.6 893.5L162.7 892.5L163.7 891.4L164.8 890.3L165.9 889.3L166.9 888.2L168.0 887.1L169.1 886.1L170.1 885.0L171.2 883.9L172.3 882.9L173.3 881.8L174.4 880.7L175.4 879.7L176.5 878.6L177.6 877.5L178.6 876.5L179.7 875.4L180.8 874.4L181.8 873.3L182.9 872.2L184.0 871.2L185.0 870.1L186.1 869.0L187.1 868.0L188.2 866.9L189.3 865.8L190.3 864.8L191.4 863.7L192.5 862.6L193.5 861.6L194.6 860.5L195.7 859.4L196.7 858.4L197.8 857.3L198.8 856.2L199.9 855.2L201.0 854.1L202.0 853.1L203.1 852.0L204.2 850.9L205.2 849.9L206.3 848.8L207.4 847.7L208.4 846.7L209.5 845.6L210.5 844.5L211.6 843.5L212.7 842.4L213.7 841.3L214.8 840.3L215.9 839.2L216.9 838.1L218.0 837.1L219.1 836.0L220.1 834.9L221.2 833.9L222.2 832.8L223.3 831.7L224.4 830.7L225.4 829.6L226.5 828.6L227.6 827.5L228.6 826.4L229.7 825.4L230.8 824.3L231.8 823.2L232.9 822.2L233.9 821.1L235.0 820.0L236.1 819.0L237.1 817.9L238.2 816.8L239.3 815.8L240.3 814.7L241.4 813.6L242.4 812.6L243.5 811.5L244.6 810.4L245.6 809.4L246.7 808.3L247.8 807.3L248.8 806.2L249.9 805.1L251.0 804.1L252.0 803.0L253.1 801.9L254.1 800.9L255.2 799.8L256.3 798.7L257.3 797.7L258.4 796.6L259.5 795.5L260.5 794.5L261.6 793.4L262.7 792.3L263.7 791.3L264.8 790.2L265.9 789.1L266.9 788.1L268.0 787.0L269.0 786.0L270.1 784.9L271.2 783.8L272.2 782.8L273.3 781.7L274.4 780.6L275.4 779.6L276.5 778.5L277.5 777.4L278.6 776.4L279.7 775.3L280.7 774.2L281.8 773.2L282.9 772.1L283.9 771.0L285.0 770.0L286.0 768.9L287.1 767.8L288.2 766.8L289.2 765.7L290.3 764.7L291.4 763.6L292.5 762.5L293.5 761.5L294.6 760.4L295.7 759.4L296.7 758.3L297.8 757.3L298.9 756.2L300.0 755.1L301.0 754.1L302.1 753.0L303.2 752.0L304.3 750.9L305.4 749.9L306.4 748.8L307.5 747.8L308.6 746.7L309.7 745.7L310.8 744.6L311.8 743.6L312.9 742.6L314.0 741.5L315.1 740.5L316.2 739.4L317.3 738.4L318.3 737.3L319.4 736.3L320.5 735.3L321.6 734.2L322.7 733.2L323.8 732.1L324.9 731.1L325.9 730.0L327.0 729.0L328.1 727.9L329.2 726.9L330.3 725.8L331.3 724.8L332.4 723.7L333.5 722.7L334.5 721.6L335.6 720.5L336.7 719.5L337.7 718.4L338.8 717.4L339.9 716.3L341.0 715.3L342.1 714.3L343.3 713.3L344.4 712.3L345.5 711.3L346.7 710.4L347.8 709.4L349.0 708.5L350.2 707.5L351.4 706.6L352.6 705.7L353.8 704.8L355.0 703.9L356.2 703.0L357.4 702.1L358.7 701.3L359.9 700.4L361.2 699.6L362.5 699.0L364.0 698.6L365.5 698.5" fill="none" stroke="#000" stroke-width="1.7" stroke-linejoin="round" stroke-linecap="butt"/>
<path d="M365.7 699.5L365.2 700.9L364.6 702.3L363.9 703.7L363.3 705.1L362.7 706.4L362.1 707.8L361.5 709.2L361.0 710.7L360.6 712.1L360.1 713.6L359.7 715.0L359.3 716.5L358.8 717.9L358.4 719.4L358.0 720.8L357.7 722.3L357.3 723.8L357.1 725.3L356.8 726.8L356.7 728.3L356.6 729.8L356.5 731.3" fill="none" stroke="#000" stroke-width="1.7" stroke-linejoin="round" stroke-linecap="butt" stroke-dasharray="8.4 5.6"/>
<path d="M355.9 744.3L356.0 745.8L356.2 747.3L356.3 748.8L356.4 750.3L356.6 751.8L356.7 753.3L356.9 754.8L357.1 756.3L357.4 757.7L357.8 759.2L358.2 760.6L358.8 762.0L359.4 763.4L360.0 764.8L360.6 766.1L361.3 767.5L361.9 768.9L362.5 770.2L363.1 771.6L363.7 773.0L364.3 774.4L365.0 775.7L365.6 777.1L366.2 778.5L366.9 779.8L367.6 781.1L368.3 782.5L369.0 783.8L369.7 785.1L370.5 786.4L371.3 787.7L372.1 788.9L373.0 790.2L373.8 791.4L374.7 792.6L375.6 793.8L376.6 795.0L377.5 796.2L378.5 797.3L379.4 798.5L380.4 799.6L381.4 800.8L382.4 801.9L383.4 803.0L384.4 804.1L385.4 805.2L386.4 806.3L387.4 807.5L388.5 808.6L389.5 809.7L390.5 810.8L391.5 811.9L392.6 813.0L393.6 814.1L394.6 815.1L395.7 816.2L396.7 817.3L397.7 818.4L398.8 819.5L399.8 820.6L400.8 821.7L401.8 822.8L402.9 823.9L403.9 825.0L404.9 826.1L406.0 827.2L407.0 828.3L408.0 829.4L409.1 830.5L410.1 831.6L411.1 832.6L412.2 833.7L413.2 834.8L414.2 835.9L415.3 837.0L416.3 838.1L417.4 839.2L418.4 840.3L419.4 841.3L420.5 842.4L421.5 843.5L422.6 844.6L423.6 845.7L424.7 846.8L425.7 847.8L426.7 848.9L427.8 850.0L428.8 851.1L429.9 852.2L430.9 853.2L432.0 854.3L433.0 855.4L434.1 856.5L435.1 857.6L436.2 858.6L437.2 859.7L438.3 860.8L439.3 861.9L440.4 862.9L441.4 864.0L442.5 865.1L443.5 866.2L444.6 867.3L445.6 868.3L446.7 869.4L447.7 870.5L448.8 871.5L449.8 872.6L450.9 873.7L451.9 874.8L453.0 875.8L454.1 876.9L455.1 878.0L456.2 879.0L457.2 880.1L458.3 881.2L459.3 882.2L460.4 883.3L461.4 884.4L462.5 885.5L463.5 886.5L464.6 887.6L465.7 888.7L466.7 889.7L467.8 890.8L468.8 891.9L469.9 893.0L470.9 894.0L472.0 895.1L473.0 896.2L474.1 897.2L475.2 898.3L476.2 899.4L477.3 900.4L478.3 901.5L479.4 902.6L480.5 903.6L481.5 904.7L482.6 905.8L483.6 906.8L484.7 907.9L485.8 909.0L486.8 910.0L487.9 911.1L488.9 912.2L490.0 913.2L491.1 914.3L492.1 915.4L493.2 916.4L494.2 917.5L495.3 918.6L496.3 919.6L497.4 920.7L498.5 921.8L499.5 922.8L500.6 923.9L501.6 925.0L502.7 926.0L503.8 927.1L504.8 928.2L505.9 929.2L506.9 930.3L508.0 931.4L509.1 932.4L510.1 933.5L511.2 934.6L512.2 935.6L513.3 936.7L514.4 937.8L515.4 938.8L516.5 939.9L517.5 941.0L518.6 942.0L519.7 943.1L520.7 944.2L521.8 945.2L522.9 946.3L523.9 947.4L525.0 948.4L526.0 949.5L527.1 950.6L528.2 951.6L529.2 952.7L530.3 953.8L531.3 954.8L532.4 955.9L533.5 956.9L534.5 958.0L535.6 959.1L536.7 960.1L537.7 961.2L538.8 962.3L539.8 963.3L540.9 964.4" fill="none" stroke="#000" stroke-width="1.7" stroke-linejoin="round" stroke-linecap="butt"/>
<path d="M121.2 930.5L122.3 929.4L123.3 928.4L124.4 927.3L125.5 926.2L126.5 925.2L127.6 924.1L128.6 923.0L129.7 922.0L130.8 920.9L131.8 919.9L132.9 918.8L134.0 917.7L135.0 916.7L136.1 915.6L137.2 914.5L138.2 913.5L139.3 912.4L140.3 911.3L141.4 910.3L142.5 909.2L143.5 908.1L144.6 907.1L145.7 906.0L146.7 904.9L147.8 903.9L148.8 902.8L149.9 901.7L151.0 900.7L152.0 899.6L153.1 898.6L154.2 897.5L155.2 896.4L156.3 895.4L157.4 894.3L158.4 893.2L159.5 892.2L160.5 891.1L161.6 890.0L162.7 889.0L163.7 887.9L164.8 886.8L165.9 885.8L166.9 884.7L168.0 883.6L169.1 882.6L170.1 881.5L171.2 880.5L172.2 879.4L173.3 878.3L174.4 877.3L175.4 876.2L176.5 875.1L177.6 874.1L178.6 873.0L179.7 871.9L180.7 870.9L181.8 869.8L182.9 868.7L183.9 867.7L185.0 866.6L186.1 865.5L187.1 864.5L188.2 863.4L189.3 862.3L190.3 861.3L191.4 860.2L192.4 859.2L193.5 858.1L194.6 857.0L195.6 856.0L196.7 854.9L197.8 853.8L198.8 852.8L199.9 851.7L201.0 850.6L202.0 849.6L203.1 848.5L204.1 847.4L205.2 846.4L206.3 845.3L207.3 844.2L208.4 843.2L209.5 842.1L210.5 841.0L211.6 840.0L212.6 838.9L213.7 837.9L214.8 836.8L215.8 835.7L216.9 834.7L218.0 833.6L219.0 832.5L220.1 831.5L221.2 830.4L222.2 829.3L223.3 828.3L224.3 827.2L225.4 826.1L226.5 825.1L227.5 824.0L228.6 822.9L229.7 821.9L230.7 820.8L231.8 819.8L232.9 818.7L233.9 817.6L235.0 816.6L236.0 815.5L237.1 814.4L238.2 813.4L239.2 812.3L240.3 811.2L241.4 810.2L242.4 809.1L243.5 808.0L244.6 807.0L245.6 805.9L246.7 804.8L247.7 803.8L248.8 802.7L249.9 801.6L250.9 800.6L252.0 799.5L253.1 798.5L254.1 797.4L255.2 796.3L256.2 795.3L257.3 794.2L258.4 793.1L259.4 792.1L260.5 791.0L261.6 789.9L262.6 788.9L263.7 787.8L264.8 786.7L265.8 785.7L266.9 784.6L267.9 783.5L269.0 782.5L270.1 781.4L271.1 780.4L272.2 779.3L273.3 778.2L274.3 777.2L275.4 776.1L276.5 775.0L277.5 774.0L278.6 772.9L279.6 771.8L280.7 770.8L281.8 769.7L282.8 768.6L283.9 767.6L285.0 766.5L286.0 765.4L287.1 764.4L288.1 763.3L289.2 762.2L290.3 761.2L291.3 760.1L292.4 759.1L293.5 758.0L294.5 756.9L295.6 755.9L296.7 754.8L297.7 753.7L298.8 752.7L299.8 751.6L300.9 750.5L302.0 749.5L303.0 748.4L304.1 747.3L305.2 746.3L306.2 745.2L307.3 744.1L308.3 743.1L309.4 742.0L310.5 740.9L311.5 739.9L312.6 738.8L313.7 737.7L314.7 736.7L315.8 735.6L316.9 734.6L317.9 733.5L319.0 732.4L320.1 731.4L321.1 730.3L322.2 729.3L323.3 728.2L324.4 727.2L325.5 726.1L326.5 725.1L327.6 724.0L328.7 723.0L329.8 721.9L330.9 720.9L332.0 719.9L333.0 718.8L334.1 717.8L335.2 716.7L336.3 715.7L337.4 714.7L338.5 713.6L339.6 712.6L340.7 711.6L341.8 710.5L342.9 709.5L344.0 708.5L345.1 707.5L346.2 706.5L347.3 705.5L348.5 704.5L349.6 703.5L350.7 702.5L351.8 701.5L353.0 700.5L354.1 699.5L355.2 698.5L356.3 697.5L357.5 696.5L358.6 695.5L359.7 694.4L360.8 693.4L361.9 692.4L363.0 691.4L364.1 690.4L365.2 689.4L366.3 688.4L367.5 687.4L368.6 686.4L369.8 685.4L371.0 684.5L372.2 683.6L373.4 682.8L374.8 682.2L376.3 682.3L377.5 683.2" fill="none" stroke="#000" stroke-width="1.7" stroke-linejoin="round" stroke-linecap="butt"/>
<path d="M377.6 684.0L376.9 685.4L376.2 686.7L375.3 688.0L374.4 689.2L373.4 690.4L372.5 691.7L371.6 692.9L370.8 694.2L370.0 695.5L369.1 696.8L368.3 698.1L367.5 699.4L366.7 700.8L366.0 702.1L365.2 703.4L364.4 704.7L363.6 706.1L362.8 707.4L362.1 708.7L361.3 710.1L360.6 711.4L359.9 712.8L359.2 714.2L358.5 715.5L357.8 716.9L357.2 718.3L356.6 719.7L356.0 721.1L355.4 722.6L354.8 724.0L354.3 725.5L354.1 727.0L354.0 728.5" fill="none" stroke="#000" stroke-width="1.7" stroke-linejoin="round" stroke-linecap="butt" stroke-dasharray="8.4 5.6"/>
<path d="M353.4 751.5L353.5 753.0L353.7 754.5L353.8 756.0L354.1 757.5L354.3 759.0L354.7 760.4L355.1 761.9L355.6 763.3L356.1 764.7L356.7 766.1L357.3 767.5L357.9 768.9L358.5 770.3L359.1 771.6L359.7 773.0L360.4 774.4L361.0 775.7L361.7 777.1L362.4 778.4L363.1 779.7L363.8 781.1L364.5 782.4L365.3 783.7L366.1 785.0L366.8 786.3L367.6 787.6L368.5 788.8L369.3 790.1L370.1 791.3L371.0 792.6L371.9 793.8L372.7 795.0L373.6 796.2L374.5 797.4L375.5 798.6L376.4 799.8L377.3 801.0L378.3 802.2L379.2 803.3L380.2 804.5L381.2 805.6L382.2 806.8L383.2 807.9L384.2 809.0L385.3 810.1L386.3 811.2L387.3 812.2L388.4 813.3L389.4 814.4L390.4 815.5L391.5 816.7L392.5 817.8L393.5 818.9L394.5 820.0L395.6 821.1L396.6 822.2L397.6 823.3L398.6 824.4L399.7 825.5L400.7 826.6L401.7 827.7L402.8 828.8L403.8 829.9L404.8 831.0L405.9 832.1L406.9 833.2L407.9 834.3L409.0 835.4L410.0 836.5L411.0 837.6L412.1 838.6L413.1 839.7L414.2 840.8L415.2 841.9L416.2 843.0L417.3 844.1L418.3 845.2L419.4 846.3L420.4 847.4L421.4 848.5L422.5 849.5L423.5 850.6L424.6 851.7L425.6 852.8L426.6 853.9L427.7 855.0L428.7 856.1L429.8 857.2L430.8 858.2L431.9 859.3L432.9 860.4L434.0 861.5L435.0 862.6L436.1 863.6L437.1 864.7L438.2 865.8L439.2 866.9L440.3 868.0L441.3 869.0L442.4 870.1L443.4 871.2L444.5 872.3L445.5 873.4L446.6 874.4L447.6 875.5L448.7 876.6L449.8 877.7L450.8 878.8L451.9 879.8L452.9 880.9L454.0 882.0L455.0 883.1L456.1 884.1L457.1 885.2L458.2 886.3L459.2 887.4L460.3 888.4L461.4 889.5L462.4 890.6L463.5 891.7L464.5 892.7L465.6 893.8L466.6 894.9L467.7 896.0L468.8 897.0L469.8 898.1L470.9 899.2L471.9 900.2L473.0 901.3L474.1 902.4L475.1 903.5L476.2 904.5L477.2 905.6L478.3 906.7L479.3 907.7L480.4 908.8L481.5 909.9L482.5 911.0L483.6 912.0L484.6 913.1L485.7 914.2L486.8 915.2L487.8 916.3L488.9 917.4L489.9 918.5L491.0 919.5L492.1 920.6L493.1 921.7L494.2 922.7L495.2 923.8L496.3 924.9L497.4 926.0L498.4 927.0L499.5 928.1L500.5 929.2L501.6 930.2L502.7 931.3L503.7 932.4L504.8 933.5L505.8 934.5L506.9 935.6L508.0 936.7L509.0 937.7L510.1 938.8L511.2 939.9L512.2 940.9L513.3 942.0L514.3 943.1L515.4 944.2L516.5 945.2L517.5 946.3L518.6 947.4L519.6 948.4L520.7 949.5L521.8 950.6L522.8 951.6L523.9 952.7L525.0 953.8L526.0 954.8L527.1 955.9L528.1 957.0L529.2 958.1L530.3 959.1L531.3 960.2L532.4 961.3L533.5 962.3L534.5 963.4L535.6 964.5L536.6 965.5L537.7 966.6L538.8 967.7L539.8 968.7L540.9 969.8" fill="none" stroke="#000" stroke-width="1.7" stroke-linejoin="round" stroke-linecap="butt"/>
<path d="M121.2 927.6L122.3 926.5L123.3 925.5L124.4 924.4L125.4 923.3L126.5 922.3L127.6 921.2L128.6 920.2L129.7 919.1L130.8 918.0L131.8 917.0L132.9 915.9L133.9 914.8L135.0 913.8L136.1 912.7L137.1 911.7L138.2 910.6L139.2 909.5L140.3 908.5L141.4 907.4L142.4 906.3L143.5 905.3L144.6 904.2L145.6 903.2L146.7 902.1L147.7 901.0L148.8 900.0L149.9 898.9L150.9 897.8L152.0 896.8L153.0 895.7L154.1 894.6L155.2 893.6L156.2 892.5L157.3 891.5L158.4 890.4L159.4 889.3L160.5 888.3L161.5 887.2L162.6 886.1L163.7 885.1L164.7 884.0L165.8 883.0L166.8 881.9L167.9 880.8L169.0 879.8L170.0 878.7L171.1 877.6L172.2 876.6L173.2 875.5L174.3 874.4L175.3 873.4L176.4 872.3L177.5 871.3L178.5 870.2L179.6 869.1L180.6 868.1L181.7 867.0L182.8 865.9L183.8 864.9L184.9 863.8L186.0 862.8L187.0 861.7L188.1 860.6L189.1 859.6L190.2 858.5L191.3 857.4L192.3 856.4L193.4 855.3L194.4 854.3L195.5 853.2L196.6 852.1L197.6 851.1L198.7 850.0L199.8 848.9L200.8 847.9L201.9 846.8L202.9 845.7L204.0 844.7L205.1 843.6L206.1 842.6L207.2 841.5L208.2 840.4L209.3 839.4L210.4 838.3L211.4 837.2L212.5 836.2L213.5 835.1L214.6 834.1L215.7 833.0L216.7 831.9L217.8 830.9L218.9 829.8L219.9 828.7L221.0 827.7L222.0 826.6L223.1 825.6L224.2 824.5L225.2 823.4L226.3 822.4L227.3 821.3L228.4 820.2L229.5 819.2L230.5 818.1L231.6 817.0L232.7 816.0L233.7 814.9L234.8 813.9L235.8 812.8L236.9 811.7L238.0 810.7L239.0 809.6L240.1 808.5L241.1 807.5L242.2 806.4L243.3 805.4L244.3 804.3L245.4 803.2L246.5 802.2L247.5 801.1L248.6 800.0L249.6 799.0L250.7 797.9L251.8 796.9L252.8 795.8L253.9 794.7L254.9 793.7L256.0 792.6L257.1 791.5L258.1 790.5L259.2 789.4L260.3 788.3L261.3 787.3L262.4 786.2L263.4 785.2L264.5 784.1L265.6 783.0L266.6 782.0L267.7 780.9L268.7 779.8L269.8 778.8L270.9 777.7L271.9 776.7L273.0 775.6L274.1 774.5L275.1 773.5L276.2 772.4L277.2 771.3L278.3 770.3L279.4 769.2L280.4 768.1L281.5 767.1L282.5 766.0L283.6 765.0L284.7 763.9L285.7 762.8L286.8 761.8L287.9 760.7L288.9 759.6L290.0 758.6L291.0 757.5L292.1 756.5L293.2 755.4L294.2 754.3L295.3 753.3L296.3 752.2L297.4 751.1L298.5 750.1L299.5 749.0L300.6 748.0L301.7 746.9L302.7 745.8L303.8 744.8L304.8 743.7L305.9 742.6L307.0 741.6L308.0 740.5L309.1 739.4L310.1 738.4L311.2 737.3L312.3 736.3L313.3 735.2L314.4 734.1L315.5 733.1L316.5 732.0L317.6 730.9L318.6 729.9L319.7 728.8L320.8 727.8L321.8 726.7L322.9 725.6L323.9 724.6L325.0 723.5L326.1 722.4L327.1 721.4L328.2 720.3L329.3 719.3L330.3 718.2L331.4 717.1L332.4 716.1L333.5 715.0L334.6 713.9L335.6 712.9L336.7 711.8L337.7 710.7L338.8 709.7L339.9 708.6L340.9 707.6L342.0 706.5L343.0 705.4L344.1 704.4L345.2 703.3L346.2 702.2L347.3 701.2L348.4 700.1L349.4 699.1L350.5 698.0L351.6 696.9L352.6 695.9L353.7 694.8L354.7 693.7L355.8 692.7L356.9 691.6L357.9 690.6L359.0 689.5L360.0 688.4L361.1 687.4L362.1 686.3L363.2 685.2L364.3 684.1L365.3 683.1L366.4 682.0L367.4 680.9L368.5 679.9L369.6 678.8L370.6 677.8L371.7 676.7L372.8 675.7L373.8 674.6L374.9 673.6L376.0 672.5L377.1 671.5L378.2 670.5L379.3 669.4L380.4 668.4L381.4 667.4L382.5 666.3L383.6 665.3L384.7 664.3L385.8 663.2L386.9 662.2L388.0 661.2L389.1 660.2L390.2 659.2L391.5 658.3L392.8 657.6" fill="none" stroke="#000" stroke-width="1.7" stroke-linejoin="round" stroke-linecap="butt"/>
<path d="M392.9 658.4L391.9 659.5L390.9 660.7L390.0 661.9L389.1 663.1L388.2 664.2L387.2 665.4L386.2 666.6L385.2 667.7L384.3 668.9L383.3 670.0L382.5 671.3L381.6 672.5L380.8 673.8L380.0 675.0L379.2 676.3L378.4 677.6L377.6 678.9L376.8 680.2L376.0 681.5L375.2 682.7L374.4 684.0L373.7 685.3L372.9 686.6L372.1 687.9L371.3 689.2L370.5 690.4L369.7 691.7L368.9 693.0L368.1 694.3L367.4 695.6L366.6 696.9L365.8 698.2L365.0 699.5L364.3 700.8L363.5 702.1L362.8 703.4L362.0 704.7L361.3 706.0L360.5 707.3L359.8 708.6L359.1 710.0L358.4 711.3L357.6 712.6L356.9 713.9L356.2 715.3L355.5 716.6L354.8 717.9L354.1 719.3L353.4 720.6L352.7 721.9L352.0 723.3L351.4 724.6L350.7 726.0L350.1 727.4L349.5 728.7L348.9 730.1L348.4 731.6L348.0 733.0L347.8 734.5L347.7 736.0" fill="none" stroke="#000" stroke-width="1.7" stroke-linejoin="round" stroke-linecap="butt" stroke-dasharray="8.4 5.6"/>
<path d="M348.1 748.9L348.3 750.4L348.5 751.9L348.8 753.4L349.0 754.8L349.3 756.3L349.7 757.8L350.0 759.2L350.4 760.7L350.8 762.1L351.3 763.6L351.8 765.0L352.3 766.4L352.9 767.8L353.4 769.2L354.0 770.6L354.7 771.9L355.3 773.3L356.0 774.6L356.6 776.0L357.3 777.3L358.1 778.6L358.8 779.9L359.5 781.2L360.3 782.5L361.1 783.8L361.9 785.1L362.8 786.3L363.6 787.5L364.5 788.8L365.3 790.0L366.2 791.3L367.0 792.5L367.8 793.8L368.7 795.0L369.5 796.3L370.3 797.5L371.1 798.8L372.0 800.0L372.8 801.3L373.7 802.5L374.6 803.7L375.6 804.8L376.6 805.9L377.6 807.1L378.5 808.3L379.5 809.4L380.4 810.6L381.3 811.8L382.2 813.0L383.2 814.2L384.1 815.4L385.0 816.5L386.0 817.7L386.9 818.9L387.9 820.0L388.8 821.2L389.8 822.3L390.8 823.5L391.8 824.6L392.8 825.7L393.8 826.8L394.8 828.0L395.8 829.1L396.8 830.2L397.8 831.3L398.8 832.4L399.8 833.5L400.8 834.6L401.9 835.7L402.9 836.8L403.9 838.0L404.9 839.1L405.9 840.2L406.9 841.3L407.9 842.4L409.0 843.5L410.0 844.6L411.0 845.7L412.0 846.8L413.0 847.9L414.1 849.0L415.1 850.1L416.1 851.2L417.1 852.3L418.2 853.4L419.2 854.5L420.2 855.6L421.3 856.7L422.3 857.8L423.3 858.9L424.4 860.0L425.4 861.0L426.4 862.1L427.5 863.2L428.5 864.3L429.5 865.4L430.6 866.5L431.6 867.6L432.6 868.7L433.7 869.8L434.7 870.8L435.8 871.9L436.8 873.0L437.8 874.1L438.9 875.2L439.9 876.3L441.0 877.3L442.0 878.4L443.0 879.5L444.1 880.6L445.1 881.7L446.2 882.8L447.2 883.8L448.3 884.9L449.3 886.0L450.4 887.1L451.4 888.1L452.5 889.2L453.5 890.3L454.6 891.4L455.6 892.5L456.7 893.5L457.7 894.6L458.8 895.7L459.8 896.8L460.8 897.8L461.9 898.9L462.9 900.0L464.0 901.1L465.0 902.2L466.1 903.2L467.1 904.3L468.2 905.4L469.2 906.5L470.3 907.5L471.3 908.6L472.4 909.7L473.4 910.8L474.5 911.9L475.5 912.9L476.6 914.0L477.6 915.1L478.7 916.2L479.7 917.2L480.8 918.3L481.8 919.4L482.9 920.4L483.9 921.5L485.0 922.6L486.0 923.7L487.1 924.7L488.1 925.8L489.2 926.9L490.2 927.9L491.3 929.0L492.3 930.1L493.4 931.2L494.5 932.2L495.5 933.3L496.6 934.4L497.6 935.4L498.7 936.5L499.7 937.6L500.8 938.7L501.8 939.7L502.9 940.8L504.0 941.9L505.0 942.9L506.1 944.0L507.1 945.1L508.2 946.1L509.2 947.2L510.3 948.3L511.3 949.4L512.4 950.4L513.4 951.5L514.5 952.6L515.5 953.6L516.6 954.7L517.7 955.8L518.7 956.9L519.8 957.9L520.8 959.0L521.9 960.1L522.9 961.1L524.0 962.2L525.0 963.3L526.1 964.4L527.1 965.4L528.2 966.5L529.3 967.6L530.3 968.6L531.4 969.7L532.4 970.8L533.5 971.8L534.5 972.9L535.6 974.0L536.7 975.0L537.7 976.1L538.8 977.2L539.8 978.2L540.9 979.3" fill="none" stroke="#000" stroke-width="1.7" stroke-linejoin="round" stroke-linecap="butt"/>
</g>
<path d="M114.2 940.6a7.0 7.0 0 1 0 14.0 0a7.0 7.0 0 1 0 -14.0 0ZM128.2 926.6a7.0 7.0 0 1 0 14.0 0a7.0 7.0 0 1 0 -14.0 0ZM142.2 912.7a7.0 7.0 0 1 0 14.0 0a7.0 7.0 0 1 0 -14.0 0ZM156.2 898.8a7.0 7.0 0 1 0 14.0 0a7.0 7.0 0 1 0 -14.0 0ZM170.2 884.8a7.0 7.0 0 1 0 14.0 0a7.0 7.0 0 1 0 -14.0 0ZM184.2 870.9a7.0 7.0 0 1 0 14.0 0a7.0 7.0 0 1 0 -14.0 0ZM198.1 856.9a7.0 7.0 0 1 0 14.0 0a7.0 7.0 0 1 0 -14.0 0ZM212.1 843.0a7.0 7.0 0 1 0 14.0 0a7.0 7.0 0 1 0 -14.0 0ZM226.1 829.0a7.0 7.0 0 1 0 14.0 0a7.0 7.0 0 1 0 -14.0 0ZM240.1 815.1a7.0 7.0 0 1 0 14.0 0a7.0 7.0 0 1 0 -14.0 0ZM254.1 801.4a7.0 7.0 0 1 0 14.0 0a7.0 7.0 0 1 0 -14.0 0ZM268.1 787.9a7.0 7.0 0 1 0 14.0 0a7.0 7.0 0 1 0 -14.0 0ZM282.1 774.5a7.0 7.0 0 1 0 14.0 0a7.0 7.0 0 1 0 -14.0 0ZM296.1 761.4a7.0 7.0 0 1 0 14.0 0a7.0 7.0 0 1 0 -14.0 0ZM310.1 748.0a7.0 7.0 0 1 0 14.0 0a7.0 7.0 0 1 0 -14.0 0ZM324.1 735.4a7.0 7.0 0 1 0 14.0 0a7.0 7.0 0 1 0 -14.0 0ZM338.0 725.9a7.0 7.0 0 1 0 14.0 0a7.0 7.0 0 1 0 -14.0 0ZM352.3 759.3a7.0 7.0 0 1 0 14.0 0a7.0 7.0 0 1 0 -14.0 0ZM366.3 785.9a7.0 7.0 0 1 0 14.0 0a7.0 7.0 0 1 0 -14.0 0ZM380.3 804.0a7.0 7.0 0 1 0 14.0 0a7.0 7.0 0 1 0 -14.0 0ZM394.3 819.7a7.0 7.0 0 1 0 14.0 0a7.0 7.0 0 1 0 -14.0 0ZM408.3 834.6a7.0 7.0 0 1 0 14.0 0a7.0 7.0 0 1 0 -14.0 0ZM422.3 849.0a7.0 7.0 0 1 0 14.0 0a7.0 7.0 0 1 0 -14.0 0ZM436.3 863.4a7.0 7.0 0 1 0 14.0 0a7.0 7.0 0 1 0 -14.0 0ZM450.3 877.0a7.0 7.0 0 1 0 14.0 0a7.0 7.0 0 1 0 -14.0 0ZM464.3 890.8a7.0 7.0 0 1 0 14.0 0a7.0 7.0 0 1 0 -14.0 0ZM478.2 904.9a7.0 7.0 0 1 0 14.0 0a7.0 7.0 0 1 0 -14.0 0ZM492.2 918.9a7.0 7.0 0 1 0 14.0 0a7.0 7.0 0 1 0 -14.0 0ZM506.2 932.9a7.0 7.0 0 1 0 14.0 0a7.0 7.0 0 1 0 -14.0 0ZM520.2 946.9a7.0 7.0 0 1 0 14.0 0a7.0 7.0 0 1 0 -14.0 0ZM534.2 960.9a7.0 7.0 0 1 0 14.0 0a7.0 7.0 0 1 0 -14.0 0ZM121.2 926.9L127.3 937.5L115.1 937.5ZM135.2 912.9L141.3 923.5L129.0 923.5ZM149.2 898.9L155.3 909.5L143.0 909.5ZM163.2 884.9L169.3 895.5L157.0 895.5ZM177.2 870.9L183.3 881.5L171.0 881.5ZM191.2 856.8L197.3 867.5L185.0 867.5ZM205.1 842.8L211.3 853.5L199.0 853.5ZM219.1 828.8L225.3 839.5L213.0 839.5ZM233.1 814.8L239.3 825.5L227.0 825.5ZM247.1 800.8L253.3 811.5L241.0 811.5ZM261.1 786.8L267.2 797.4L255.0 797.4ZM275.1 772.8L281.2 783.4L268.9 783.4ZM289.1 758.8L295.2 769.4L282.9 769.4ZM303.1 745.0L309.2 755.7L296.9 755.7ZM317.1 731.5L323.2 742.1L310.9 742.1ZM331.1 718.0L337.2 728.6L324.9 728.6ZM345.0 704.6L351.2 715.3L338.9 715.3ZM359.0 693.9L365.2 704.6L352.9 704.6ZM359.2 709.6L365.3 720.2L353.1 720.2ZM373.0 783.2L379.2 793.8L366.9 793.8ZM387.0 799.9L393.2 810.5L380.9 810.5ZM401.0 814.8L407.1 825.4L394.9 825.4ZM415.0 829.6L421.1 840.3L408.8 840.3ZM429.0 844.1L435.1 854.8L422.8 854.8ZM443.0 858.5L449.1 869.2L436.8 869.2ZM457.0 872.7L463.1 883.4L450.8 883.4ZM471.0 886.9L477.1 897.6L464.8 897.6ZM484.9 901.1L491.1 911.7L478.8 911.7ZM498.9 915.2L505.1 925.8L492.8 925.8ZM512.9 929.2L519.1 939.9L506.8 939.9ZM526.9 943.3L533.1 953.9L520.8 953.9ZM540.9 957.3L547.0 967.9L534.8 967.9ZM121.2 937.6L127.3 927.0L115.1 927.0ZM135.2 923.6L141.3 912.9L129.0 912.9ZM149.2 909.6L155.3 898.9L143.0 898.9ZM163.2 895.6L169.3 884.9L157.0 884.9ZM177.2 881.6L183.3 870.9L171.0 870.9ZM191.2 867.5L197.3 856.9L185.0 856.9ZM205.1 853.5L211.3 842.9L199.0 842.9ZM219.1 839.5L225.3 828.9L213.0 828.9ZM233.1 825.5L239.3 814.9L227.0 814.9ZM247.1 811.5L253.3 800.9L241.0 800.9ZM261.1 797.5L267.2 786.9L255.0 786.9ZM275.1 783.5L281.2 772.8L268.9 772.8ZM289.1 769.5L295.2 758.8L282.9 758.8ZM303.1 755.5L309.2 744.8L296.9 744.8ZM317.1 741.5L323.2 730.8L310.9 730.8ZM331.1 727.8L337.2 717.2L324.9 717.2ZM345.0 714.6L351.2 704.0L338.9 704.0ZM359.0 702.1L365.2 691.5L352.9 691.5ZM373.0 690.1L379.2 679.5L366.9 679.5ZM373.0 697.6L379.1 687.0L366.9 687.0ZM359.0 721.6L365.1 711.0L352.9 711.0ZM359.0 778.6L365.2 767.9L352.9 767.9ZM373.0 802.5L379.2 791.9L366.9 791.9ZM387.0 819.0L393.2 808.3L380.9 808.3ZM401.0 834.0L407.1 823.3L394.9 823.3ZM415.0 848.8L421.1 838.2L408.8 838.2ZM429.0 863.4L435.1 852.8L422.8 852.8ZM443.0 877.8L449.1 867.2L436.8 867.2ZM457.0 892.1L463.1 881.5L450.8 881.5ZM471.0 906.3L477.1 895.7L464.8 895.7ZM484.9 920.5L491.1 909.9L478.8 909.9ZM498.9 934.6L505.1 924.0L492.8 924.0ZM512.9 948.8L519.1 938.1L506.8 938.1ZM526.9 962.9L533.1 952.2L520.8 952.2ZM540.9 976.9L547.0 966.2L534.8 966.2ZM121.2 920.6L128.2 927.6L121.2 934.6L114.2 927.6ZM135.2 906.6L142.2 913.6L135.2 920.6L128.2 913.6ZM149.2 892.6L156.2 899.6L149.2 906.6L142.2 899.6ZM163.2 878.6L170.2 885.6L163.2 892.6L156.2 885.6ZM177.2 864.6L184.2 871.6L177.2 878.6L170.2 871.6ZM191.2 850.5L198.2 857.5L191.2 864.5L184.2 857.5ZM205.1 836.5L212.1 843.5L205.1 850.5L198.1 843.5ZM219.1 822.5L226.1 829.5L219.1 836.5L212.1 829.5ZM233.1 808.5L240.1 815.5L233.1 822.5L226.1 815.5ZM247.1 794.5L254.1 801.5L247.1 808.5L240.1 801.5ZM261.1 780.5L268.1 787.5L261.1 794.5L254.1 787.5ZM275.1 766.5L282.1 773.5L275.1 780.5L268.1 773.5ZM289.1 752.5L296.1 759.5L289.1 766.5L282.1 759.5ZM303.1 738.5L310.1 745.5L303.1 752.5L296.1 745.5ZM317.1 724.5L324.1 731.5L317.1 738.5L310.1 731.5ZM331.1 710.5L338.1 717.5L331.1 724.5L324.1 717.5ZM345.0 696.4L352.0 703.4L345.0 710.4L338.0 703.4ZM359.0 682.4L366.0 689.4L359.0 696.4L352.0 689.4ZM373.0 668.4L380.0 675.4L373.0 682.4L366.0 675.4ZM387.0 655.1L394.0 662.1L387.0 669.1L380.0 662.1ZM387.0 658.6L394.0 665.6L387.0 672.6L380.0 665.6ZM373.0 679.3L380.0 686.3L373.0 693.3L366.0 686.3ZM359.0 703.0L366.0 710.0L359.0 717.0L352.0 710.0ZM359.2 774.1L366.2 781.1L359.2 788.1L352.2 781.1ZM373.2 795.1L380.2 802.1L373.2 809.1L366.2 802.1ZM387.0 812.0L394.0 819.0L387.0 826.0L380.0 819.0ZM401.0 827.8L408.0 834.8L401.0 841.8L394.0 834.8ZM415.0 843.0L422.0 850.0L415.0 857.0L408.0 850.0ZM429.0 857.8L436.0 864.8L429.0 871.8L422.0 864.8ZM443.0 872.4L450.0 879.4L443.0 886.4L436.0 879.4ZM457.0 886.8L464.0 893.8L457.0 900.8L450.0 893.8ZM471.0 901.2L478.0 908.2L471.0 915.2L464.0 908.2ZM484.9 915.6L491.9 922.6L484.9 929.6L477.9 922.6ZM498.9 929.8L505.9 936.8L498.9 943.8L491.9 936.8ZM512.9 944.0L519.9 951.0L512.9 958.0L505.9 951.0ZM526.9 958.2L533.9 965.2L526.9 972.2L519.9 965.2ZM540.9 972.3L547.9 979.3L540.9 986.3L533.9 979.3Z" fill="none" stroke="#000" stroke-width="1.1" stroke-linejoin="miter"/>
<path d="M126.1 40.15V479.76M125.25 478.91H565.27M126.1 478.91v9.7M176.81 478.91v5M206.47 478.91v5M227.52 478.91v5M243.84 478.91v5M257.18 478.91v5M268.46 478.91v5M278.23 478.91v5M286.84 478.91v5M294.55 478.91v9.7M345.26 478.91v5M374.92 478.91v5M395.97 478.91v5M412.29 478.91v5M425.63 478.91v5M436.91 478.91v5M446.68 478.91v5M455.29 478.91v5M463 478.91v9.7M513.71 478.91v5M543.37 478.91v5M564.42 478.91v5M126.1 478.91h-9.7M126.1 434.97h-5M126.1 409.26h-5M126.1 391.03h-5M126.1 376.88h-5M126.1 365.32h-5M126.1 355.55h-5M126.1 347.09h-5M126.1 339.62h-5M126.1 332.94h-9.7M126.1 289h-5M126.1 263.29h-5M126.1 245.06h-5M126.1 230.91h-5M126.1 219.35h-5M126.1 209.58h-5M126.1 201.12h-5M126.1 193.65h-5M126.1 186.97h-9.7M126.1 143.03h-5M126.1 117.32h-5M126.1 99.09h-5M126.1 84.94h-5M126.1 73.38h-5M126.1 63.61h-5M126.1 55.15h-5M126.1 47.68h-5M126.1 41h-9.7" fill="none" stroke="#000" stroke-width="1.7" stroke-linecap="butt"/>
<text transform="translate(104.91 514.81) scale(0.92 1)" font-size="26.5">10</text>
<text x="130.69" y="505.51" font-size="17.2">−1</text>
<text transform="translate(278.21 514.81) scale(0.92 1)" font-size="26.5">10</text>
<text x="303.99" y="505.51" font-size="17.2">0</text>
<text transform="translate(446.66 514.81) scale(0.92 1)" font-size="26.5">10</text>
<text x="472.44" y="505.51" font-size="17.2">1</text>
<text transform="translate(60.21 488.81) scale(0.92 1)" font-size="26.5">10</text>
<text x="85.99" y="479.51" font-size="17.2">−3</text>
<text transform="translate(60.21 342.84) scale(0.92 1)" font-size="26.5">10</text>
<text x="85.99" y="333.54" font-size="17.2">−2</text>
<text transform="translate(60.21 196.87) scale(0.92 1)" font-size="26.5">10</text>
<text x="85.99" y="187.57" font-size="17.2">−1</text>
<text transform="translate(69.91 50.9) scale(0.92 1)" font-size="26.5">10</text>
<text x="95.69" y="41.6" font-size="17.2">0</text>
<path d="M734.3 68.75V490.64M733.55 489.89H1155.05M734.3 489.89v9.6M765.91 489.89v4.9M784.4 489.89v4.9M797.52 489.89v4.9M807.69 489.89v4.9M816.01 489.89v4.9M823.04 489.89v4.9M829.12 489.89v4.9M834.5 489.89v4.9M839.3 489.89v9.6M870.91 489.89v4.9M889.4 489.89v4.9M902.52 489.89v4.9M912.69 489.89v4.9M921.01 489.89v4.9M928.04 489.89v4.9M934.12 489.89v4.9M939.5 489.89v4.9M944.3 489.89v9.6M975.91 489.89v4.9M994.4 489.89v4.9M1007.52 489.89v4.9M1017.69 489.89v4.9M1026.01 489.89v4.9M1033.04 489.89v4.9M1039.12 489.89v4.9M1044.5 489.89v4.9M1049.3 489.89v9.6M1080.91 489.89v4.9M1099.4 489.89v4.9M1112.52 489.89v4.9M1122.69 489.89v4.9M1131.01 489.89v4.9M1138.04 489.89v4.9M1144.12 489.89v4.9M1149.5 489.89v4.9M1154.3 489.89v9.6M734.3 489.89h-9.6M734.3 447.71h-4.9M734.3 423.03h-4.9M734.3 405.52h-4.9M734.3 391.94h-4.9M734.3 380.85h-4.9M734.3 371.47h-4.9M734.3 363.34h-4.9M734.3 356.17h-4.9M734.3 349.76h-9.6M734.3 307.58h-4.9M734.3 282.9h-4.9M734.3 265.39h-4.9M734.3 251.81h-4.9M734.3 240.72h-4.9M734.3 231.34h-4.9M734.3 223.21h-4.9M734.3 216.04h-4.9M734.3 209.63h-9.6M734.3 167.45h-4.9M734.3 142.77h-4.9M734.3 125.26h-4.9M734.3 111.68h-4.9M734.3 100.59h-4.9M734.3 91.21h-4.9M734.3 83.08h-4.9M734.3 75.91h-4.9M734.3 69.5h-9.6" fill="none" stroke="#000" stroke-width="1.5" stroke-linecap="butt"/>
<text transform="translate(713.11 526.89) scale(0.92 1)" font-size="26.5">10</text>
<text x="738.89" y="517.59" font-size="17.2">−3</text>
<text transform="translate(818.11 526.89) scale(0.92 1)" font-size="26.5">10</text>
<text x="843.89" y="517.59" font-size="17.2">−2</text>
<text transform="translate(923.11 526.89) scale(0.92 1)" font-size="26.5">10</text>
<text x="948.89" y="517.59" font-size="17.2">−1</text>
<text transform="translate(1032.96 526.89) scale(0.92 1)" font-size="26.5">10</text>
<text x="1058.74" y="517.59" font-size="17.2">0</text>
<text transform="translate(1137.96 526.89) scale(0.92 1)" font-size="26.5">10</text>
<text x="1163.74" y="517.59" font-size="17.2">1</text>
<text transform="translate(669.51 499.89) scale(0.92 1)" font-size="26.5">10</text>
<text x="695.29" y="490.59" font-size="17.2">−3</text>
<text transform="translate(669.51 359.76) scale(0.92 1)" font-size="26.5">10</text>
<text x="695.29" y="350.46" font-size="17.2">−2</text>
<text transform="translate(669.51 219.63) scale(0.92 1)" font-size="26.5">10</text>
<text x="695.29" y="210.33" font-size="17.2">−1</text>
<text transform="translate(679.21 79.5) scale(0.92 1)" font-size="26.5">10</text>
<text x="704.99" y="70.2" font-size="17.2">0</text>
<path d="M121.2 603.05V1024.85M120.45 1024.1H541.65M121.2 1024.1v9.6M163.31 1024.1v4.9M187.95 1024.1v4.9M205.43 1024.1v4.9M218.99 1024.1v4.9M230.06 1024.1v4.9M239.43 1024.1v4.9M247.54 1024.1v4.9M254.7 1024.1v4.9M261.1 1024.1v9.6M303.21 1024.1v4.9M327.85 1024.1v4.9M345.33 1024.1v4.9M358.89 1024.1v4.9M369.96 1024.1v4.9M379.33 1024.1v4.9M387.44 1024.1v4.9M394.6 1024.1v4.9M401 1024.1v9.6M443.11 1024.1v4.9M467.75 1024.1v4.9M485.23 1024.1v4.9M498.79 1024.1v4.9M509.86 1024.1v4.9M519.23 1024.1v4.9M527.34 1024.1v4.9M534.5 1024.1v4.9M540.9 1024.1v9.6M121.2 1024.1h-9.6M121.2 981.93h-4.9M121.2 957.26h-4.9M121.2 939.75h-4.9M121.2 926.17h-4.9M121.2 915.08h-4.9M121.2 905.7h-4.9M121.2 897.58h-4.9M121.2 890.41h-4.9M121.2 884h-9.6M121.2 841.83h-4.9M121.2 817.16h-4.9M121.2 799.65h-4.9M121.2 786.07h-4.9M121.2 774.98h-4.9M121.2 765.6h-4.9M121.2 757.48h-4.9M121.2 750.31h-4.9M121.2 743.9h-9.6M121.2 701.73h-4.9M121.2 677.06h-4.9M121.2 659.55h-4.9M121.2 645.97h-4.9M121.2 634.88h-4.9M121.2 625.5h-4.9M121.2 617.38h-4.9M121.2 610.21h-4.9M121.2 603.8h-9.6" fill="none" stroke="#000" stroke-width="1.5" stroke-linecap="butt"/>
<text transform="translate(100.01 1061.1) scale(0.92 1)" font-size="26.5">10</text>
<text x="125.79" y="1051.8" font-size="17.2">−1</text>
<text transform="translate(244.76 1061.1) scale(0.92 1)" font-size="26.5">10</text>
<text x="270.54" y="1051.8" font-size="17.2">0</text>
<text transform="translate(384.66 1061.1) scale(0.92 1)" font-size="26.5">10</text>
<text x="410.44" y="1051.8" font-size="17.2">1</text>
<text transform="translate(524.56 1061.1) scale(0.92 1)" font-size="26.5">10</text>
<text x="550.34" y="1051.8" font-size="17.2">2</text>
<text transform="translate(56.41 1034.1) scale(0.92 1)" font-size="26.5">10</text>
<text x="82.19" y="1024.8" font-size="17.2">−2</text>
<text transform="translate(56.41 894) scale(0.92 1)" font-size="26.5">10</text>
<text x="82.19" y="884.7" font-size="17.2">−1</text>
<text transform="translate(66.11 753.9) scale(0.92 1)" font-size="26.5">10</text>
<text x="91.89" y="744.6" font-size="17.2">0</text>
<text transform="translate(66.11 613.8) scale(0.92 1)" font-size="26.5">10</text>
<text x="91.89" y="604.5" font-size="17.2">1</text>
<text transform="translate(4.41 40.42) scale(1.02 1)" font-size="28">(</text>
<text transform="translate(14.38 41.1) scale(1.12 1)" font-size="30.42" font-style="italic">a</text>
<text transform="translate(29.85 40.42) scale(1.13 1)" font-size="28">)</text>
<text x="619.41" y="40.53" font-size="28.44">(</text>
<text transform="translate(629.12 41.11) scale(1.11 1)" font-size="29" font-style="italic">b</text>
<text transform="translate(644.85 40.53) scale(1.11 1)" font-size="28.44">)</text>
<text transform="translate(3.52 612.4) scale(1.07 1)" font-size="28.56">(</text>
<text x="13.7" y="613.2" font-size="30.42" font-style="italic">c</text>
<text transform="translate(27.47 612.4) scale(1.09 1)" font-size="28.56">)</text>
<text transform="translate(1.03 274) scale(1.1 1)" font-size="30.53" font-style="italic">Ω</text>
<text transform="translate(24.21 269.79) scale(0.89 1)" font-size="24.52">*</text>
<text transform="translate(34.64 269.79) scale(0.87 1)" font-size="24.52">*</text>
<text transform="translate(331.8 554) scale(1.21 1)" font-size="30.69" font-style="italic">Σ</text>
<text transform="translate(316.8 1100.7) scale(1.22 1)" font-size="30.53" font-style="italic">Σ</text>
<text transform="translate(13.68 828.17) scale(1.13 1)" font-size="28.24" font-style="italic">η</text>
<text transform="translate(28.84 823.93) scale(0.86 1)" font-size="24.66">*</text>
<text x="28.86" y="832.89" font-size="21.04">3</text>
<text transform="translate(126.59 828.81) scale(1.08 1)" font-size="29">(</text>
<text transform="translate(139.7 829.5) scale(1.25 1)" font-size="29.92" font-style="italic">Σ</text>
<text transform="translate(161.9 835.39) scale(0.98 1)" font-size="40.6">/</text>
<text transform="translate(173.88 829.5) scale(1.1 1)" font-size="30.76">2</text>
<text transform="translate(189.78 828.81) scale(1.06 1)" font-size="29">)</text>
<text transform="translate(343.09 889.99) scale(1.08 1)" font-size="29.11">(</text>
<text transform="translate(353.15 890.7) scale(1.13 1)" font-size="30.45">2</text>
<text transform="translate(370 896.4) scale(0.89 1)" font-size="40.45">/</text>
<text transform="translate(385 890.7) scale(1.17 1)" font-size="29.92" font-style="italic">Σ</text>
<text transform="translate(406.98 889.99) scale(1.06 1)" font-size="29.11">)</text>
<text transform="translate(890.17 572.27) scale(1.07 1)" font-size="29.67">(</text>
<text transform="translate(902.9 572.4) scale(1.12 1)" font-size="30.23" font-style="italic">Σ</text>
<text transform="translate(925.6 578.98) scale(0.92 1)" font-size="41.5">/</text>
<text transform="translate(937.05 573.52) scale(0.72 1)" font-size="36.1">√</text>
<path d="M950.6 545.8H979.8" stroke="#000" stroke-width="1.5" fill="none"/>
<text transform="translate(955.98 572.61) scale(1.06 1)" font-size="29.95" font-style="italic">β</text>
<text x="969.78" y="576.49" font-size="21.47" font-style="italic">p</text>
<text transform="translate(980.57 572.27) scale(1.05 1)" font-size="29.67">)</text>
<text x="1089.21" y="26.71" font-size="29">(</text>
<text transform="translate(1099.32 27.4) scale(0.98 1)" font-size="30.15">3</text>
<text transform="translate(1117.2 27.4) scale(1.24 1)" font-size="29.62" font-style="italic">Σ</text>
<text transform="translate(1139.7 33.59) scale(0.97 1)" font-size="41.05">/</text>
<text transform="translate(1151.56 27.4) scale(1.06 1)" font-size="30.15">2</text>
<text transform="translate(1165.86 29.41) scale(0.8 1)" font-size="37.23">√</text>
<path d="M1181.4 0.6H1223.2" stroke="#000" stroke-width="1.5" fill="none"/>
<text x="1183.24" y="27.4" font-size="30.15">2</text>
<text transform="translate(1199.1 27.5) scale(1.15 1)" font-size="29.07" font-style="italic">β</text>
<text transform="translate(1213.75 32.15) scale(0.98 1)" font-size="21.18" font-style="italic">p</text>
<text transform="translate(1223.79 26.71) scale(1.05 1)" font-size="29">)</text>
<g transform="rotate(-90)">
<text transform="translate(-306.85 650.57) scale(1.14 1)" font-size="34">−</text>
<text transform="translate(-283.76 646.88) scale(1.05 1)" font-size="28.68" font-style="italic">η</text>
<text transform="translate(-267.26 651.5) scale(0.68 1)" font-size="20.61">1</text>
<text transform="translate(-269.15 643.02) scale(0.81 1)" font-size="26.03">*</text>
</g>
</svg></body></html>
